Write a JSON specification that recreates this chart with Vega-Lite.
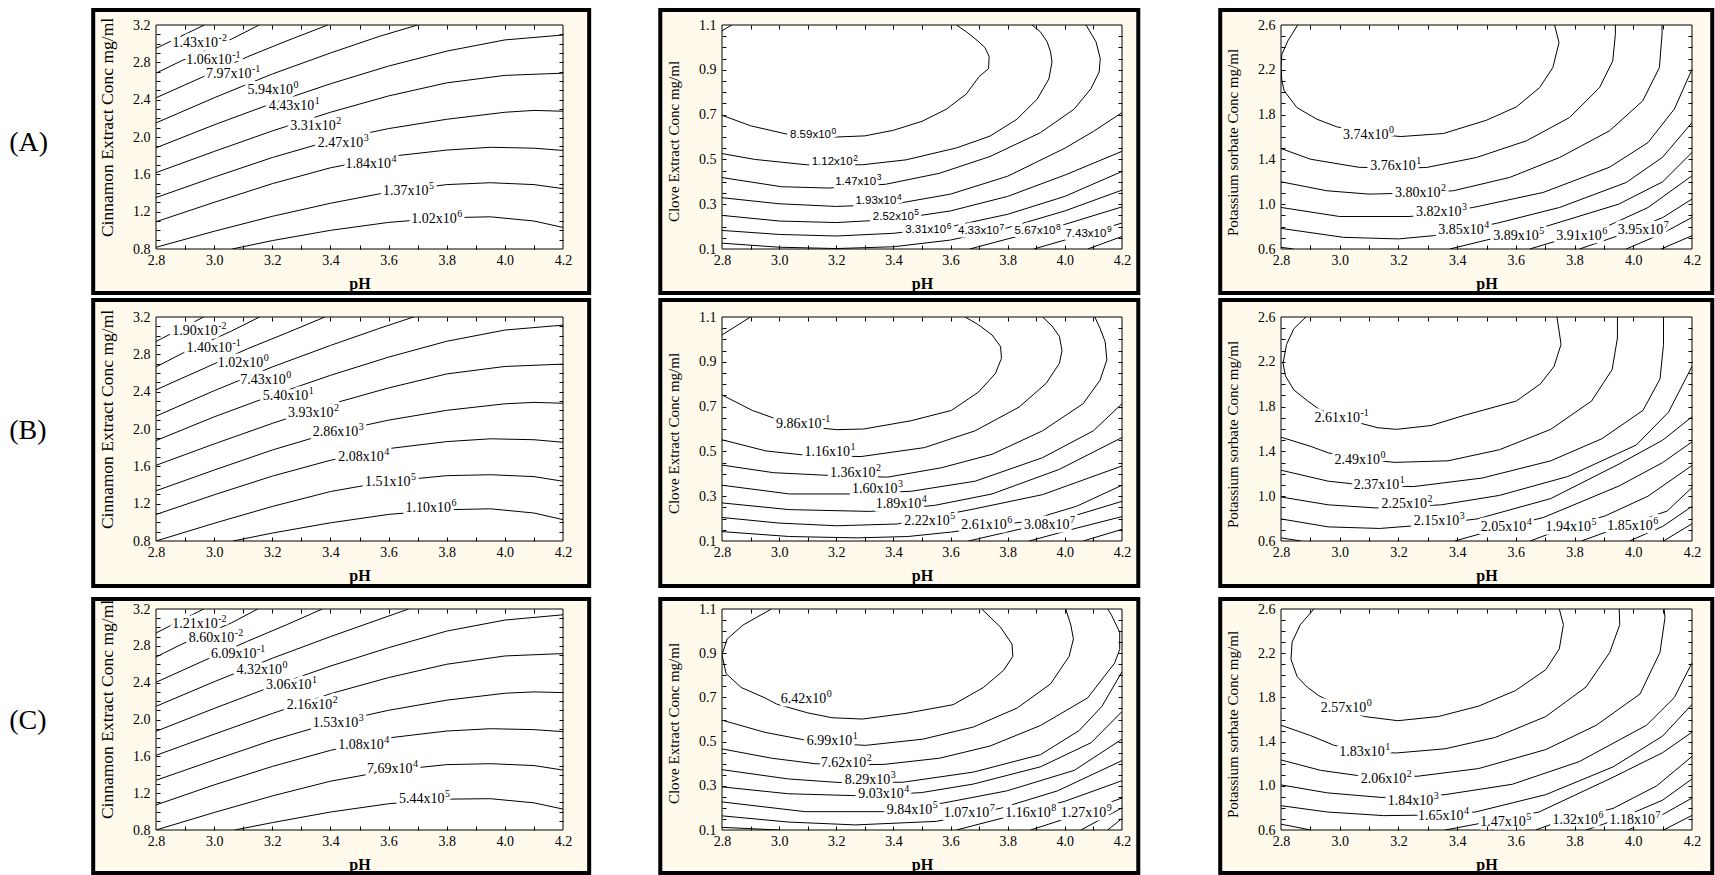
{
"$schema": "https://vega.github.io/schema/vega-lite/v6.json",
"background": "white",
"autosize": {"type": "pad"},
"padding": {"left": 9, "top": 7, "right": 0, "bottom": 0},
"config": {"view": {"stroke": null}, "axis": {"labelColor": "black", "titleColor": "black", "grid": false, "zindex": 1}},
"datasets": {
"frames": [
{"p":"A1","x0":2.584,"x1":4.29,"y0":0.329,"y1":3.361},
{"p":"B1","x0":2.584,"x1":4.29,"y0":0.318,"y1":3.382},
{"p":"C1","x0":2.584,"x1":4.29,"y0":0.333,"y1":3.309},
{"p":"A2","x0":2.584,"x1":4.257,"y0":-0.096,"y1":1.167},
{"p":"B2","x0":2.584,"x1":4.257,"y0":-0.101,"y1":1.176},
{"p":"C2","x0":2.584,"x1":4.257,"y0":-0.095,"y1":1.145},
{"p":"A3","x0":2.593,"x1":4.269,"y0":0.207,"y1":2.734},
{"p":"B3","x0":2.593,"x1":4.269,"y0":0.198,"y1":2.752},
{"p":"C3","x0":2.593,"x1":4.269,"y0":0.211,"y1":2.69}
],
"rowlab": [
{"p":"A1","t":"(A)","x":2.295,"y":1.936},
{"p":"B1","t":"(B)","x":2.295,"y":1.979},
{"p":"C1","t":"(C)","x":2.295,"y":1.984}
],
"labels": [
{"p":"A1","t":"1.43x10","e":"-2","x":2.857,"y":3.004},{"p":"A1","t":"1.06x10","e":"-1","x":2.904,"y":2.823},{"p":"A1","t":"7.97x10","e":"-1","x":2.972,"y":2.67},{"p":"A1","t":"5.94x10","e":"0","x":3.115,"y":2.503},{"p":"A1","t":"4.43x10","e":"1","x":3.188,"y":2.329},{"p":"A1","t":"3.31x10","e":"2","x":3.262,"y":2.115},{"p":"A1","t":"2.47x10","e":"3","x":3.356,"y":1.938},{"p":"A1","t":"1.84x10","e":"4","x":3.452,"y":1.707},{"p":"A1","t":"1.37x10","e":"5","x":3.581,"y":1.422},{"p":"A1","t":"1.02x10","e":"6","x":3.678,"y":1.12},
{"p":"B1","t":"1.90x10","e":"-2","x":2.856,"y":3.047},{"p":"B1","t":"1.40x10","e":"-1","x":2.905,"y":2.865},{"p":"B1","t":"1.02x10","e":"0","x":3.012,"y":2.702},{"p":"B1","t":"7.43x10","e":"0","x":3.09,"y":2.527},{"p":"B1","t":"5.40x10","e":"1","x":3.167,"y":2.356},{"p":"B1","t":"3.93x10","e":"2","x":3.254,"y":2.175},{"p":"B1","t":"2.86x10","e":"3","x":3.339,"y":1.967},{"p":"B1","t":"2.08x10","e":"4","x":3.427,"y":1.702},{"p":"B1","t":"1.51x10","e":"5","x":3.519,"y":1.429},{"p":"B1","t":"1.10x10","e":"6","x":3.658,"y":1.149},
{"p":"C1","t":"1.21x10","e":"-2","x":2.856,"y":3.036},{"p":"C1","t":"8.60x10","e":"-2","x":2.913,"y":2.887},{"p":"C1","t":"6.09x10","e":"-1","x":2.989,"y":2.716},{"p":"C1","t":"4.32x10","e":"0","x":3.077,"y":2.541},{"p":"C1","t":"3.06x10","e":"1","x":3.178,"y":2.374},{"p":"C1","t":"2.16x10","e":"2","x":3.25,"y":2.158},{"p":"C1","t":"1.53x10","e":"3","x":3.339,"y":1.965},{"p":"C1","t":"1.08x10","e":"4","x":3.427,"y":1.723},{"p":"C1","t":"7.69x10","e":"4","x":3.526,"y":1.462},{"p":"C1","t":"5.44x10","e":"5","x":3.636,"y":1.139},
{"p":"A2","t":"8.59x10","e":"0","x":3.038,"y":0.607},{"p":"A2","t":"1.12x10","e":"2","x":3.114,"y":0.488},{"p":"A2","t":"1.47x10","e":"3","x":3.196,"y":0.401},{"p":"A2","t":"1.93x10","e":"4","x":3.267,"y":0.314},{"p":"A2","t":"2.52x10","e":"5","x":3.328,"y":0.243},{"p":"A2","t":"3.31x10","e":"6","x":3.441,"y":0.183},{"p":"A2","t":"4.33x10","e":"7","x":3.626,"y":0.18},{"p":"A2","t":"5.67x10","e":"8","x":3.824,"y":0.18},{"p":"A2","t":"7.43x10","e":"9","x":4.002,"y":0.168},
{"p":"B2","t":"9.86x10","e":"-1","x":2.989,"y":0.622},{"p":"B2","t":"1.16x10","e":"1","x":3.089,"y":0.498},{"p":"B2","t":"1.36x10","e":"2","x":3.178,"y":0.402},{"p":"B2","t":"1.60x10","e":"3","x":3.255,"y":0.33},{"p":"B2","t":"1.89x10","e":"4","x":3.338,"y":0.265},{"p":"B2","t":"2.22x10","e":"5","x":3.438,"y":0.19},{"p":"B2","t":"2.61x10","e":"6","x":3.637,"y":0.172},{"p":"B2","t":"3.08x10","e":"7","x":3.857,"y":0.172},
{"p":"C2","t":"6.42x10","e":"0","x":3.006,"y":0.694},{"p":"C2","t":"6.99x10","e":"1","x":3.097,"y":0.503},{"p":"C2","t":"7.62x10","e":"2","x":3.146,"y":0.405},{"p":"C2","t":"8.29x10","e":"3","x":3.23,"y":0.327},{"p":"C2","t":"9.03x10","e":"4","x":3.277,"y":0.261},{"p":"C2","t":"9.84x10","e":"5","x":3.377,"y":0.191},{"p":"C2","t":"1.07x10","e":"7","x":3.576,"y":0.175},{"p":"C2","t":"1.16x10","e":"8","x":3.791,"y":0.175},{"p":"C2","t":"1.27x10","e":"9","x":3.986,"y":0.178},
{"p":"A3","t":"3.74x10","e":"0","x":3.011,"y":1.619},{"p":"A3","t":"3.76x10","e":"1","x":3.104,"y":1.34},{"p":"A3","t":"3.80x10","e":"2","x":3.188,"y":1.096},{"p":"A3","t":"3.82x10","e":"3","x":3.26,"y":0.933},{"p":"A3","t":"3.85x10","e":"4","x":3.336,"y":0.769},{"p":"A3","t":"3.89x10","e":"5","x":3.523,"y":0.719},{"p":"A3","t":"3.91x10","e":"6","x":3.738,"y":0.719},{"p":"A3","t":"3.95x10","e":"7","x":3.947,"y":0.769},
{"p":"B3","t":"2.61x10","e":"-1","x":2.914,"y":1.696},{"p":"B3","t":"2.49x10","e":"0","x":2.982,"y":1.322},{"p":"B3","t":"2.37x10","e":"1","x":3.048,"y":1.097},{"p":"B3","t":"2.25x10","e":"2","x":3.142,"y":0.929},{"p":"B3","t":"2.15x10","e":"3","x":3.252,"y":0.777},{"p":"B3","t":"2.05x10","e":"4","x":3.48,"y":0.726},{"p":"B3","t":"1.94x10","e":"5","x":3.701,"y":0.726},{"p":"B3","t":"1.85x10","e":"6","x":3.911,"y":0.732},
{"p":"C3","t":"2.57x10","e":"0","x":2.935,"y":1.705},{"p":"C3","t":"1.83x10","e":"1","x":2.998,"y":1.306},{"p":"C3","t":"2.06x10","e":"2","x":3.072,"y":1.062},{"p":"C3","t":"1.84x10","e":"3","x":3.164,"y":0.864},{"p":"C3","t":"1.65x10","e":"4","x":3.267,"y":0.726},{"p":"C3","t":"1.47x10","e":"5","x":3.479,"y":0.675},{"p":"C3","t":"1.32x10","e":"6","x":3.725,"y":0.691},{"p":"C3","t":"1.18x10","e":"7","x":3.919,"y":0.691}
],
"lines": [
{"p":"A1","c":1,"x":2.8,"y":2.95},{"p":"A1","c":1,"x":2.966,"y":3.2},
{"p":"A1","c":2,"x":2.8,"y":2.684},{"p":"A1","c":2,"x":2.89,"y":2.82},{"p":"A1","c":2,"x":3.06,"y":3.05},{"p":"A1","c":2,"x":3.155,"y":3.2},
{"p":"A1","c":3,"x":2.8,"y":2.42},{"p":"A1","c":3,"x":2.955,"y":2.635},{"p":"A1","c":3,"x":3.115,"y":2.86},{"p":"A1","c":3,"x":3.25,"y":3.03},{"p":"A1","c":3,"x":3.391,"y":3.2},
{"p":"A1","c":4,"x":2.8,"y":2.151},{"p":"A1","c":4,"x":3.0,"y":2.42},{"p":"A1","c":4,"x":3.2,"y":2.675},{"p":"A1","c":4,"x":3.4,"y":2.9},{"p":"A1","c":4,"x":3.57,"y":3.08},{"p":"A1","c":4,"x":3.7,"y":3.2},
{"p":"A1","c":5,"x":2.8,"y":1.884},{"p":"A1","c":5,"x":3.0,"y":2.13},{"p":"A1","c":5,"x":3.2,"y":2.36},{"p":"A1","c":5,"x":3.4,"y":2.57},{"p":"A1","c":5,"x":3.6,"y":2.76},{"p":"A1","c":5,"x":3.8,"y":2.92},{"p":"A1","c":5,"x":4.0,"y":3.04},{"p":"A1","c":5,"x":4.2,"y":3.093},
{"p":"A1","c":6,"x":2.8,"y":1.618},{"p":"A1","c":6,"x":3.0,"y":1.845},{"p":"A1","c":6,"x":3.2,"y":2.065},{"p":"A1","c":6,"x":3.4,"y":2.265},{"p":"A1","c":6,"x":3.6,"y":2.44},{"p":"A1","c":6,"x":3.8,"y":2.58},{"p":"A1","c":6,"x":4.0,"y":2.66},{"p":"A1","c":6,"x":4.2,"y":2.684},
{"p":"A1","c":7,"x":2.8,"y":1.351},{"p":"A1","c":7,"x":3.0,"y":1.57},{"p":"A1","c":7,"x":3.2,"y":1.78},{"p":"A1","c":7,"x":3.4,"y":1.96},{"p":"A1","c":7,"x":3.6,"y":2.09},{"p":"A1","c":7,"x":3.8,"y":2.19},{"p":"A1","c":7,"x":4.0,"y":2.265},{"p":"A1","c":7,"x":4.1,"y":2.285},{"p":"A1","c":7,"x":4.2,"y":2.276},
{"p":"A1","c":8,"x":2.8,"y":1.092},{"p":"A1","c":8,"x":3.0,"y":1.3},{"p":"A1","c":8,"x":3.2,"y":1.5},{"p":"A1","c":8,"x":3.4,"y":1.67},{"p":"A1","c":8,"x":3.6,"y":1.79},{"p":"A1","c":8,"x":3.8,"y":1.86},{"p":"A1","c":8,"x":3.95,"y":1.89},{"p":"A1","c":8,"x":4.1,"y":1.88},{"p":"A1","c":8,"x":4.2,"y":1.856},
{"p":"A1","c":9,"x":2.8,"y":0.818},{"p":"A1","c":9,"x":3.0,"y":0.99},{"p":"A1","c":9,"x":3.2,"y":1.15},{"p":"A1","c":9,"x":3.4,"y":1.29},{"p":"A1","c":9,"x":3.6,"y":1.41},{"p":"A1","c":9,"x":3.8,"y":1.49},{"p":"A1","c":9,"x":3.95,"y":1.51},{"p":"A1","c":9,"x":4.1,"y":1.49},{"p":"A1","c":9,"x":4.2,"y":1.447},
{"p":"A1","c":10,"x":3.062,"y":0.8},{"p":"A1","c":10,"x":3.2,"y":0.89},{"p":"A1","c":10,"x":3.4,"y":1.0},{"p":"A1","c":10,"x":3.6,"y":1.085},{"p":"A1","c":10,"x":3.8,"y":1.135},{"p":"A1","c":10,"x":3.95,"y":1.145},{"p":"A1","c":10,"x":4.1,"y":1.1},{"p":"A1","c":10,"x":4.2,"y":1.031},

{"p":"B1","c":1,"x":2.8,"y":2.938},{"p":"B1","c":1,"x":2.964,"y":3.2},
{"p":"B1","c":2,"x":2.8,"y":2.665},{"p":"B1","c":2,"x":2.89,"y":2.81},{"p":"B1","c":2,"x":3.06,"y":3.05},{"p":"B1","c":2,"x":3.156,"y":3.2},
{"p":"B1","c":3,"x":2.8,"y":2.42},{"p":"B1","c":3,"x":2.955,"y":2.635},{"p":"B1","c":3,"x":3.115,"y":2.86},{"p":"B1","c":3,"x":3.25,"y":3.03},{"p":"B1","c":3,"x":3.381,"y":3.2},
{"p":"B1","c":4,"x":2.8,"y":2.138},{"p":"B1","c":4,"x":3.0,"y":2.41},{"p":"B1","c":4,"x":3.2,"y":2.665},{"p":"B1","c":4,"x":3.4,"y":2.895},{"p":"B1","c":4,"x":3.57,"y":3.08},{"p":"B1","c":4,"x":3.686,"y":3.2},
{"p":"B1","c":5,"x":2.8,"y":1.876},{"p":"B1","c":5,"x":3.0,"y":2.13},{"p":"B1","c":5,"x":3.2,"y":2.36},{"p":"B1","c":5,"x":3.4,"y":2.575},{"p":"B1","c":5,"x":3.6,"y":2.77},{"p":"B1","c":5,"x":3.8,"y":2.94},{"p":"B1","c":5,"x":4.0,"y":3.06},{"p":"B1","c":5,"x":4.2,"y":3.113},
{"p":"B1","c":6,"x":2.8,"y":1.611},{"p":"B1","c":6,"x":3.0,"y":1.84},{"p":"B1","c":6,"x":3.2,"y":2.06},{"p":"B1","c":6,"x":3.4,"y":2.265},{"p":"B1","c":6,"x":3.6,"y":2.44},{"p":"B1","c":6,"x":3.8,"y":2.59},{"p":"B1","c":6,"x":4.0,"y":2.67},{"p":"B1","c":6,"x":4.2,"y":2.695},
{"p":"B1","c":7,"x":2.8,"y":1.338},{"p":"B1","c":7,"x":3.0,"y":1.56},{"p":"B1","c":7,"x":3.2,"y":1.775},{"p":"B1","c":7,"x":3.4,"y":1.96},{"p":"B1","c":7,"x":3.6,"y":2.095},{"p":"B1","c":7,"x":3.8,"y":2.2},{"p":"B1","c":7,"x":4.0,"y":2.27},{"p":"B1","c":7,"x":4.1,"y":2.285},{"p":"B1","c":7,"x":4.2,"y":2.276},
{"p":"B1","c":8,"x":2.8,"y":1.084},{"p":"B1","c":8,"x":3.0,"y":1.295},{"p":"B1","c":8,"x":3.2,"y":1.495},{"p":"B1","c":8,"x":3.4,"y":1.665},{"p":"B1","c":8,"x":3.6,"y":1.79},{"p":"B1","c":8,"x":3.8,"y":1.865},{"p":"B1","c":8,"x":3.95,"y":1.895},{"p":"B1","c":8,"x":4.1,"y":1.885},{"p":"B1","c":8,"x":4.2,"y":1.858},
{"p":"B1","c":9,"x":2.8,"y":0.8},{"p":"B1","c":9,"x":3.0,"y":0.99},{"p":"B1","c":9,"x":3.2,"y":1.17},{"p":"B1","c":9,"x":3.4,"y":1.33},{"p":"B1","c":9,"x":3.6,"y":1.44},{"p":"B1","c":9,"x":3.8,"y":1.5},{"p":"B1","c":9,"x":3.95,"y":1.51},{"p":"B1","c":9,"x":4.1,"y":1.49},{"p":"B1","c":9,"x":4.2,"y":1.44},
{"p":"B1","c":10,"x":3.065,"y":0.8},{"p":"B1","c":10,"x":3.2,"y":0.885},{"p":"B1","c":10,"x":3.4,"y":0.995},{"p":"B1","c":10,"x":3.6,"y":1.085},{"p":"B1","c":10,"x":3.8,"y":1.135},{"p":"B1","c":10,"x":3.95,"y":1.145},{"p":"B1","c":10,"x":4.1,"y":1.1},{"p":"B1","c":10,"x":4.2,"y":1.029},

{"p":"C1","c":1,"x":2.8,"y":2.94},{"p":"C1","c":1,"x":2.964,"y":3.2},
{"p":"C1","c":2,"x":2.8,"y":2.679},{"p":"C1","c":2,"x":2.89,"y":2.82},{"p":"C1","c":2,"x":3.06,"y":3.05},{"p":"C1","c":2,"x":3.15,"y":3.2},
{"p":"C1","c":3,"x":2.8,"y":2.404},{"p":"C1","c":3,"x":2.955,"y":2.625},{"p":"C1","c":3,"x":3.115,"y":2.85},{"p":"C1","c":3,"x":3.25,"y":3.03},{"p":"C1","c":3,"x":3.372,"y":3.2},
{"p":"C1","c":4,"x":2.8,"y":2.143},{"p":"C1","c":4,"x":3.0,"y":2.41},{"p":"C1","c":4,"x":3.2,"y":2.665},{"p":"C1","c":4,"x":3.4,"y":2.9},{"p":"C1","c":4,"x":3.57,"y":3.09},{"p":"C1","c":4,"x":3.669,"y":3.2},
{"p":"C1","c":5,"x":2.8,"y":1.872},{"p":"C1","c":5,"x":3.0,"y":2.12},{"p":"C1","c":5,"x":3.2,"y":2.36},{"p":"C1","c":5,"x":3.4,"y":2.58},{"p":"C1","c":5,"x":3.6,"y":2.78},{"p":"C1","c":5,"x":3.8,"y":2.96},{"p":"C1","c":5,"x":4.0,"y":3.08},{"p":"C1","c":5,"x":4.2,"y":3.137},
{"p":"C1","c":6,"x":2.8,"y":1.611},{"p":"C1","c":6,"x":3.0,"y":1.84},{"p":"C1","c":6,"x":3.2,"y":2.065},{"p":"C1","c":6,"x":3.4,"y":2.28},{"p":"C1","c":6,"x":3.6,"y":2.455},{"p":"C1","c":6,"x":3.8,"y":2.6},{"p":"C1","c":6,"x":4.0,"y":2.69},{"p":"C1","c":6,"x":4.2,"y":2.716},
{"p":"C1","c":7,"x":2.8,"y":1.34},{"p":"C1","c":7,"x":3.0,"y":1.56},{"p":"C1","c":7,"x":3.2,"y":1.775},{"p":"C1","c":7,"x":3.4,"y":1.96},{"p":"C1","c":7,"x":3.6,"y":2.1},{"p":"C1","c":7,"x":3.8,"y":2.21},{"p":"C1","c":7,"x":4.0,"y":2.285},{"p":"C1","c":7,"x":4.1,"y":2.3},{"p":"C1","c":7,"x":4.2,"y":2.292},
{"p":"C1","c":8,"x":2.8,"y":1.072},{"p":"C1","c":8,"x":3.0,"y":1.29},{"p":"C1","c":8,"x":3.2,"y":1.49},{"p":"C1","c":8,"x":3.4,"y":1.665},{"p":"C1","c":8,"x":3.6,"y":1.8},{"p":"C1","c":8,"x":3.8,"y":1.875},{"p":"C1","c":8,"x":3.95,"y":1.9},{"p":"C1","c":8,"x":4.1,"y":1.89},{"p":"C1","c":8,"x":4.2,"y":1.868},
{"p":"C1","c":9,"x":2.8,"y":0.8},{"p":"C1","c":9,"x":3.0,"y":0.99},{"p":"C1","c":9,"x":3.2,"y":1.17},{"p":"C1","c":9,"x":3.4,"y":1.33},{"p":"C1","c":9,"x":3.6,"y":1.445},{"p":"C1","c":9,"x":3.8,"y":1.51},{"p":"C1","c":9,"x":3.95,"y":1.52},{"p":"C1","c":9,"x":4.1,"y":1.5},{"p":"C1","c":9,"x":4.2,"y":1.451},
{"p":"C1","c":10,"x":3.071,"y":0.8},{"p":"C1","c":10,"x":3.2,"y":0.88},{"p":"C1","c":10,"x":3.4,"y":0.995},{"p":"C1","c":10,"x":3.6,"y":1.085},{"p":"C1","c":10,"x":3.8,"y":1.135},{"p":"C1","c":10,"x":3.95,"y":1.14},{"p":"C1","c":10,"x":4.1,"y":1.095},{"p":"C1","c":10,"x":4.2,"y":1.027},

{"p":"A2","c":0,"x":2.8,"y":1.074},{"p":"A2","c":0,"x":2.834,"y":1.1},
{"p":"A2","c":1,"x":2.8,"y":0.697},{"p":"A2","c":1,"x":2.9,"y":0.65},{"p":"A2","c":1,"x":3.03,"y":0.612},{"p":"A2","c":1,"x":3.2,"y":0.6},{"p":"A2","c":1,"x":3.3,"y":0.605},{"p":"A2","c":1,"x":3.4,"y":0.63},{"p":"A2","c":1,"x":3.5,"y":0.67},{"p":"A2","c":1,"x":3.585,"y":0.724},{"p":"A2","c":1,"x":3.655,"y":0.792},{"p":"A2","c":1,"x":3.7,"y":0.87},{"p":"A2","c":1,"x":3.733,"y":0.905},{"p":"A2","c":1,"x":3.735,"y":0.96},{"p":"A2","c":1,"x":3.72,"y":1.0},{"p":"A2","c":1,"x":3.696,"y":1.028},{"p":"A2","c":1,"x":3.655,"y":1.07},{"p":"A2","c":1,"x":3.62,"y":1.1},
{"p":"A2","c":2,"x":2.8,"y":0.526},{"p":"A2","c":2,"x":2.914,"y":0.5},{"p":"A2","c":2,"x":3.096,"y":0.476},{"p":"A2","c":2,"x":3.291,"y":0.476},{"p":"A2","c":2,"x":3.444,"y":0.498},{"p":"A2","c":2,"x":3.62,"y":0.551},{"p":"A2","c":2,"x":3.738,"y":0.604},{"p":"A2","c":2,"x":3.832,"y":0.679},{"p":"A2","c":2,"x":3.903,"y":0.769},{"p":"A2","c":2,"x":3.944,"y":0.859},{"p":"A2","c":2,"x":3.955,"y":0.934},{"p":"A2","c":2,"x":3.95,"y":0.98},{"p":"A2","c":2,"x":3.938,"y":1.025},{"p":"A2","c":2,"x":3.914,"y":1.07},{"p":"A2","c":2,"x":3.885,"y":1.1},
{"p":"A2","c":3,"x":2.8,"y":0.419},{"p":"A2","c":3,"x":3.008,"y":0.378},{"p":"A2","c":3,"x":3.173,"y":0.372},{"p":"A2","c":3,"x":3.373,"y":0.389},{"p":"A2","c":3,"x":3.561,"y":0.438},{"p":"A2","c":3,"x":3.738,"y":0.513},{"p":"A2","c":3,"x":3.914,"y":0.619},{"p":"A2","c":3,"x":4.032,"y":0.724},{"p":"A2","c":3,"x":4.091,"y":0.815},{"p":"A2","c":3,"x":4.12,"y":0.89},{"p":"A2","c":3,"x":4.124,"y":0.95},{"p":"A2","c":3,"x":4.109,"y":1.025},{"p":"A2","c":3,"x":4.085,"y":1.077},{"p":"A2","c":3,"x":4.074,"y":1.1},
{"p":"A2","c":4,"x":2.8,"y":0.329},{"p":"A2","c":4,"x":3.0,"y":0.302},{"p":"A2","c":4,"x":3.2,"y":0.29},{"p":"A2","c":4,"x":3.4,"y":0.3},{"p":"A2","c":4,"x":3.6,"y":0.345},{"p":"A2","c":4,"x":3.8,"y":0.425},{"p":"A2","c":4,"x":4.0,"y":0.55},{"p":"A2","c":4,"x":4.1,"y":0.625},{"p":"A2","c":4,"x":4.2,"y":0.709},
{"p":"A2","c":5,"x":2.8,"y":0.25},{"p":"A2","c":5,"x":3.0,"y":0.225},{"p":"A2","c":5,"x":3.2,"y":0.218},{"p":"A2","c":5,"x":3.4,"y":0.232},{"p":"A2","c":5,"x":3.6,"y":0.27},{"p":"A2","c":5,"x":3.8,"y":0.335},{"p":"A2","c":5,"x":4.0,"y":0.43},{"p":"A2","c":5,"x":4.2,"y":0.536},
{"p":"A2","c":6,"x":2.8,"y":0.183},{"p":"A2","c":6,"x":3.0,"y":0.165},{"p":"A2","c":6,"x":3.2,"y":0.158},{"p":"A2","c":6,"x":3.4,"y":0.17},{"p":"A2","c":6,"x":3.6,"y":0.2},{"p":"A2","c":6,"x":3.8,"y":0.255},{"p":"A2","c":6,"x":4.0,"y":0.335},{"p":"A2","c":6,"x":4.2,"y":0.446},
{"p":"A2","c":7,"x":2.8,"y":0.126},{"p":"A2","c":7,"x":3.0,"y":0.108},{"p":"A2","c":7,"x":3.2,"y":0.102},{"p":"A2","c":7,"x":3.4,"y":0.11},{"p":"A2","c":7,"x":3.6,"y":0.14},{"p":"A2","c":7,"x":3.8,"y":0.195},{"p":"A2","c":7,"x":4.0,"y":0.27},{"p":"A2","c":7,"x":4.2,"y":0.363},
{"p":"A2","c":8,"x":3.667,"y":0.1},{"p":"A2","c":8,"x":3.8,"y":0.145},{"p":"A2","c":8,"x":4.0,"y":0.21},{"p":"A2","c":8,"x":4.2,"y":0.288},
{"p":"A2","c":9,"x":3.891,"y":0.1},{"p":"A2","c":9,"x":4.0,"y":0.14},{"p":"A2","c":9,"x":4.2,"y":0.216},
{"p":"A2","c":10,"x":4.08,"y":0.1},{"p":"A2","c":10,"x":4.2,"y":0.156},

{"p":"B2","c":0,"x":2.8,"y":1.02},{"p":"B2","c":0,"x":2.9,"y":1.1},
{"p":"B2","c":1,"x":2.8,"y":0.752},{"p":"B2","c":1,"x":2.906,"y":0.683},{"p":"B2","c":1,"x":3.0,"y":0.64},{"p":"B2","c":1,"x":3.1,"y":0.61},{"p":"B2","c":1,"x":3.202,"y":0.597},{"p":"B2","c":1,"x":3.296,"y":0.6},{"p":"B2","c":1,"x":3.462,"y":0.637},{"p":"B2","c":1,"x":3.603,"y":0.683},{"p":"B2","c":1,"x":3.698,"y":0.765},{"p":"B2","c":1,"x":3.757,"y":0.848},{"p":"B2","c":1,"x":3.778,"y":0.915},{"p":"B2","c":1,"x":3.775,"y":0.968},{"p":"B2","c":1,"x":3.745,"y":1.02},{"p":"B2","c":1,"x":3.698,"y":1.065},{"p":"B2","c":1,"x":3.651,"y":1.1},
{"p":"B2","c":2,"x":2.8,"y":0.552},{"p":"B2","c":2,"x":2.954,"y":0.502},{"p":"B2","c":2,"x":3.1,"y":0.482},{"p":"B2","c":2,"x":3.287,"y":0.477},{"p":"B2","c":2,"x":3.509,"y":0.517},{"p":"B2","c":2,"x":3.686,"y":0.592},{"p":"B2","c":2,"x":3.84,"y":0.698},{"p":"B2","c":2,"x":3.934,"y":0.803},{"p":"B2","c":2,"x":3.981,"y":0.893},{"p":"B2","c":2,"x":3.99,"y":0.95},{"p":"B2","c":2,"x":3.981,"y":1.013},{"p":"B2","c":2,"x":3.955,"y":1.06},{"p":"B2","c":2,"x":3.922,"y":1.1},
{"p":"B2","c":3,"x":2.8,"y":0.439},{"p":"B2","c":3,"x":2.98,"y":0.405},{"p":"B2","c":3,"x":3.154,"y":0.394},{"p":"B2","c":3,"x":3.379,"y":0.385},{"p":"B2","c":3,"x":3.568,"y":0.427},{"p":"B2","c":3,"x":3.745,"y":0.487},{"p":"B2","c":3,"x":3.922,"y":0.592},{"p":"B2","c":3,"x":4.064,"y":0.713},{"p":"B2","c":3,"x":4.123,"y":0.818},{"p":"B2","c":3,"x":4.147,"y":0.908},{"p":"B2","c":3,"x":4.141,"y":0.99},{"p":"B2","c":3,"x":4.123,"y":1.05},{"p":"B2","c":3,"x":4.105,"y":1.1},
{"p":"B2","c":4,"x":2.8,"y":0.349},{"p":"B2","c":4,"x":3.036,"y":0.31},{"p":"B2","c":4,"x":3.25,"y":0.31},{"p":"B2","c":4,"x":3.462,"y":0.322},{"p":"B2","c":4,"x":3.686,"y":0.367},{"p":"B2","c":4,"x":3.922,"y":0.472},{"p":"B2","c":4,"x":4.1,"y":0.592},{"p":"B2","c":4,"x":4.2,"y":0.713},
{"p":"B2","c":5,"x":2.8,"y":0.27},{"p":"B2","c":5,"x":3.036,"y":0.24},{"p":"B2","c":5,"x":3.32,"y":0.232},{"p":"B2","c":5,"x":3.544,"y":0.259},{"p":"B2","c":5,"x":3.745,"y":0.31},{"p":"B2","c":5,"x":3.981,"y":0.42},{"p":"B2","c":5,"x":4.2,"y":0.562},
{"p":"B2","c":6,"x":2.8,"y":0.205},{"p":"B2","c":6,"x":3.0,"y":0.18},{"p":"B2","c":6,"x":3.202,"y":0.168},{"p":"B2","c":6,"x":3.414,"y":0.176},{"p":"B2","c":6,"x":3.686,"y":0.244},{"p":"B2","c":6,"x":3.922,"y":0.307},{"p":"B2","c":6,"x":4.2,"y":0.435},
{"p":"B2","c":7,"x":2.8,"y":0.142},{"p":"B2","c":7,"x":3.036,"y":0.12},{"p":"B2","c":7,"x":3.272,"y":0.114},{"p":"B2","c":7,"x":3.45,"y":0.12},{"p":"B2","c":7,"x":3.603,"y":0.14},{"p":"B2","c":7,"x":3.863,"y":0.187},{"p":"B2","c":7,"x":4.041,"y":0.255},{"p":"B2","c":7,"x":4.2,"y":0.349},
{"p":"B2","c":8,"x":3.662,"y":0.1},{"p":"B2","c":8,"x":3.85,"y":0.155},{"p":"B2","c":8,"x":4.0,"y":0.2},{"p":"B2","c":8,"x":4.2,"y":0.277},
{"p":"B2","c":9,"x":3.875,"y":0.1},{"p":"B2","c":9,"x":4.04,"y":0.157},{"p":"B2","c":9,"x":4.2,"y":0.209},
{"p":"B2","c":10,"x":4.064,"y":0.1},{"p":"B2","c":10,"x":4.2,"y":0.152},

{"p":"C2","c":1,"x":2.973,"y":1.1},{"p":"C2","c":1,"x":2.873,"y":1.027},{"p":"C2","c":1,"x":2.818,"y":0.964},{"p":"C2","c":1,"x":2.8,"y":0.894},{"p":"C2","c":1,"x":2.814,"y":0.808},{"p":"C2","c":1,"x":2.867,"y":0.745},{"p":"C2","c":1,"x":2.95,"y":0.698},{"p":"C2","c":1,"x":2.991,"y":0.67},{"p":"C2","c":1,"x":3.1,"y":0.63},{"p":"C2","c":1,"x":3.185,"y":0.608},{"p":"C2","c":1,"x":3.291,"y":0.602},{"p":"C2","c":1,"x":3.444,"y":0.628},{"p":"C2","c":1,"x":3.609,"y":0.667},{"p":"C2","c":1,"x":3.715,"y":0.745},{"p":"C2","c":1,"x":3.786,"y":0.823},{"p":"C2","c":1,"x":3.818,"y":0.886},{"p":"C2","c":1,"x":3.815,"y":0.941},{"p":"C2","c":1,"x":3.774,"y":1.019},{"p":"C2","c":1,"x":3.709,"y":1.1},
{"p":"C2","c":2,"x":2.8,"y":0.597},{"p":"C2","c":2,"x":2.95,"y":0.542},{"p":"C2","c":2,"x":3.079,"y":0.51},{"p":"C2","c":2,"x":3.2,"y":0.49},{"p":"C2","c":2,"x":3.303,"y":0.483},{"p":"C2","c":2,"x":3.503,"y":0.511},{"p":"C2","c":2,"x":3.68,"y":0.566},{"p":"C2","c":2,"x":3.833,"y":0.652},{"p":"C2","c":2,"x":3.95,"y":0.761},{"p":"C2","c":2,"x":4.015,"y":0.886},{"p":"C2","c":2,"x":4.03,"y":0.964},{"p":"C2","c":2,"x":4.021,"y":1.027},{"p":"C2","c":2,"x":4.003,"y":1.1},
{"p":"C2","c":3,"x":2.8,"y":0.467},{"p":"C2","c":3,"x":2.973,"y":0.425},{"p":"C2","c":3,"x":3.126,"y":0.4},{"p":"C2","c":3,"x":3.25,"y":0.395},{"p":"C2","c":3,"x":3.368,"y":0.397},{"p":"C2","c":3,"x":3.562,"y":0.425},{"p":"C2","c":3,"x":3.738,"y":0.48},{"p":"C2","c":3,"x":3.915,"y":0.573},{"p":"C2","c":3,"x":4.08,"y":0.698},{"p":"C2","c":3,"x":4.174,"y":0.855},{"p":"C2","c":3,"x":4.192,"y":0.917},{"p":"C2","c":3,"x":4.192,"y":0.995},{"p":"C2","c":3,"x":4.163,"y":1.073},{"p":"C2","c":3,"x":4.15,"y":1.1},
{"p":"C2","c":4,"x":2.8,"y":0.373},{"p":"C2","c":4,"x":3.032,"y":0.331},{"p":"C2","c":4,"x":3.209,"y":0.315},{"p":"C2","c":4,"x":3.432,"y":0.316},{"p":"C2","c":4,"x":3.68,"y":0.362},{"p":"C2","c":4,"x":3.915,"y":0.441},{"p":"C2","c":4,"x":4.05,"y":0.55},{"p":"C2","c":4,"x":4.13,"y":0.66},{"p":"C2","c":4,"x":4.2,"y":0.816},
{"p":"C2","c":5,"x":2.8,"y":0.295},{"p":"C2","c":5,"x":3.032,"y":0.264},{"p":"C2","c":5,"x":3.277,"y":0.255},{"p":"C2","c":5,"x":3.497,"y":0.269},{"p":"C2","c":5,"x":3.68,"y":0.308},{"p":"C2","c":5,"x":3.915,"y":0.386},{"p":"C2","c":5,"x":4.092,"y":0.495},{"p":"C2","c":5,"x":4.2,"y":0.636},
{"p":"C2","c":6,"x":2.8,"y":0.227},{"p":"C2","c":6,"x":3.091,"y":0.183},{"p":"C2","c":6,"x":3.362,"y":0.183},{"p":"C2","c":6,"x":3.574,"y":0.222},{"p":"C2","c":6,"x":3.797,"y":0.277},{"p":"C2","c":6,"x":4.033,"y":0.37},{"p":"C2","c":6,"x":4.2,"y":0.511},
{"p":"C2","c":7,"x":2.8,"y":0.164},{"p":"C2","c":7,"x":3.032,"y":0.136},{"p":"C2","c":7,"x":3.267,"y":0.123},{"p":"C2","c":7,"x":3.55,"y":0.139},{"p":"C2","c":7,"x":3.774,"y":0.198},{"p":"C2","c":7,"x":3.974,"y":0.277},{"p":"C2","c":7,"x":4.2,"y":0.414},
{"p":"C2","c":8,"x":2.8,"y":0.112},{"p":"C2","c":8,"x":3.0,"y":0.1},
{"p":"C2","c":18,"x":3.62,"y":0.1},{"p":"C2","c":18,"x":3.8,"y":0.16},{"p":"C2","c":18,"x":4.0,"y":0.23},{"p":"C2","c":18,"x":4.2,"y":0.323},
{"p":"C2","c":9,"x":3.88,"y":0.1},{"p":"C2","c":9,"x":4.0,"y":0.15},{"p":"C2","c":9,"x":4.2,"y":0.245},
{"p":"C2","c":10,"x":4.056,"y":0.1},{"p":"C2","c":10,"x":4.2,"y":0.2},
{"p":"C2","c":11,"x":4.15,"y":0.1},{"p":"C2","c":11,"x":4.2,"y":0.152},

{"p":"A3","c":1,"x":2.857,"y":2.6},{"p":"A3","c":1,"x":2.823,"y":2.457},{"p":"A3","c":1,"x":2.803,"y":2.338},{"p":"A3","c":1,"x":2.8,"y":2.22},{"p":"A3","c":1,"x":2.803,"y":2.1},{"p":"A3","c":1,"x":2.811,"y":2.012},{"p":"A3","c":1,"x":2.854,"y":1.863},{"p":"A3","c":1,"x":2.922,"y":1.759},{"p":"A3","c":1,"x":2.99,"y":1.691},{"p":"A3","c":1,"x":3.1,"y":1.63},{"p":"A3","c":1,"x":3.208,"y":1.604},{"p":"A3","c":1,"x":3.353,"y":1.631},{"p":"A3","c":1,"x":3.5,"y":1.75},{"p":"A3","c":1,"x":3.602,"y":1.869},{"p":"A3","c":1,"x":3.681,"y":2.041},{"p":"A3","c":1,"x":3.726,"y":2.22},{"p":"A3","c":1,"x":3.747,"y":2.443},{"p":"A3","c":1,"x":3.732,"y":2.6},
{"p":"A3","c":2,"x":2.8,"y":1.497},{"p":"A3","c":2,"x":2.9,"y":1.402},{"p":"A3","c":2,"x":3.064,"y":1.33},{"p":"A3","c":2,"x":3.2,"y":1.32},{"p":"A3","c":2,"x":3.296,"y":1.328},{"p":"A3","c":2,"x":3.466,"y":1.417},{"p":"A3","c":2,"x":3.636,"y":1.566},{"p":"A3","c":2,"x":3.783,"y":1.774},{"p":"A3","c":2,"x":3.885,"y":2.041},{"p":"A3","c":2,"x":3.93,"y":2.279},{"p":"A3","c":2,"x":3.939,"y":2.517},{"p":"A3","c":2,"x":3.939,"y":2.6},
{"p":"A3","c":3,"x":2.8,"y":1.2},{"p":"A3","c":3,"x":2.956,"y":1.12},{"p":"A3","c":3,"x":3.1,"y":1.09},{"p":"A3","c":3,"x":3.25,"y":1.1},{"p":"A3","c":3,"x":3.387,"y":1.12},{"p":"A3","c":3,"x":3.579,"y":1.239},{"p":"A3","c":3,"x":3.749,"y":1.417},{"p":"A3","c":3,"x":3.919,"y":1.655},{"p":"A3","c":3,"x":4.032,"y":1.922},{"p":"A3","c":3,"x":4.089,"y":2.22},{"p":"A3","c":3,"x":4.098,"y":2.517},{"p":"A3","c":3,"x":4.098,"y":2.6},
{"p":"A3","c":4,"x":2.8,"y":0.971},{"p":"A3","c":4,"x":3.0,"y":0.89},{"p":"A3","c":4,"x":3.24,"y":0.89},{"p":"A3","c":4,"x":3.455,"y":0.971},{"p":"A3","c":4,"x":3.693,"y":1.105},{"p":"A3","c":4,"x":3.919,"y":1.33},{"p":"A3","c":4,"x":4.05,"y":1.55},{"p":"A3","c":4,"x":4.14,"y":1.85},{"p":"A3","c":4,"x":4.2,"y":2.205},
{"p":"A3","c":5,"x":2.8,"y":0.784},{"p":"A3","c":5,"x":3.013,"y":0.704},{"p":"A3","c":5,"x":3.2,"y":0.69},{"p":"A3","c":5,"x":3.319,"y":0.719},{"p":"A3","c":5,"x":3.534,"y":0.829},{"p":"A3","c":5,"x":3.749,"y":0.971},{"p":"A3","c":5,"x":3.976,"y":1.194},{"p":"A3","c":5,"x":4.1,"y":1.42},{"p":"A3","c":5,"x":4.2,"y":1.729},
{"p":"A3","c":16,"x":2.8,"y":0.615},{"p":"A3","c":16,"x":2.843,"y":0.6},
{"p":"A3","c":6,"x":3.375,"y":0.6},{"p":"A3","c":6,"x":3.5,"y":0.68},{"p":"A3","c":6,"x":3.7,"y":0.8},{"p":"A3","c":6,"x":3.95,"y":1.0},{"p":"A3","c":6,"x":4.1,"y":1.2},{"p":"A3","c":6,"x":4.2,"y":1.462},
{"p":"A3","c":7,"x":3.647,"y":0.6},{"p":"A3","c":7,"x":3.75,"y":0.68},{"p":"A3","c":7,"x":3.9,"y":0.79},{"p":"A3","c":7,"x":4.05,"y":0.97},{"p":"A3","c":7,"x":4.2,"y":1.254},
{"p":"A3","c":8,"x":3.817,"y":0.6},{"p":"A3","c":8,"x":3.95,"y":0.72},{"p":"A3","c":8,"x":4.1,"y":0.88},{"p":"A3","c":8,"x":4.2,"y":1.046},
{"p":"A3","c":9,"x":3.976,"y":0.6},{"p":"A3","c":9,"x":4.1,"y":0.74},{"p":"A3","c":9,"x":4.2,"y":0.882},
{"p":"A3","c":10,"x":4.095,"y":0.6},{"p":"A3","c":10,"x":4.2,"y":0.719},

{"p":"B3","c":1,"x":2.885,"y":2.6},{"p":"B3","c":1,"x":2.844,"y":2.496},{"p":"B3","c":1,"x":2.819,"y":2.356},{"p":"B3","c":1,"x":2.807,"y":2.187},{"p":"B3","c":1,"x":2.815,"y":2.075},{"p":"B3","c":1,"x":2.844,"y":1.948},{"p":"B3","c":1,"x":2.891,"y":1.85},{"p":"B3","c":1,"x":2.928,"y":1.78},{"p":"B3","c":1,"x":3.0,"y":1.7},{"p":"B3","c":1,"x":3.13,"y":1.611},{"p":"B3","c":1,"x":3.194,"y":1.597},{"p":"B3","c":1,"x":3.311,"y":1.631},{"p":"B3","c":1,"x":3.427,"y":1.724},{"p":"B3","c":1,"x":3.602,"y":1.85},{"p":"B3","c":1,"x":3.684,"y":2.004},{"p":"B3","c":1,"x":3.73,"y":2.159},{"p":"B3","c":1,"x":3.754,"y":2.356},{"p":"B3","c":1,"x":3.74,"y":2.6},
{"p":"B3","c":2,"x":2.8,"y":1.527},{"p":"B3","c":2,"x":2.903,"y":1.443},{"p":"B3","c":2,"x":2.961,"y":1.387},{"p":"B3","c":2,"x":3.05,"y":1.34},{"p":"B3","c":2,"x":3.188,"y":1.302},{"p":"B3","c":2,"x":3.369,"y":1.316},{"p":"B3","c":2,"x":3.544,"y":1.415},{"p":"B3","c":2,"x":3.719,"y":1.597},{"p":"B3","c":2,"x":3.858,"y":1.85},{"p":"B3","c":2,"x":3.928,"y":2.131},{"p":"B3","c":2,"x":3.946,"y":2.412},{"p":"B3","c":2,"x":3.946,"y":2.6},
{"p":"B3","c":3,"x":2.8,"y":1.232},{"p":"B3","c":3,"x":2.961,"y":1.134},{"p":"B3","c":3,"x":3.1,"y":1.095},{"p":"B3","c":3,"x":3.252,"y":1.086},{"p":"B3","c":3,"x":3.485,"y":1.162},{"p":"B3","c":3,"x":3.719,"y":1.316},{"p":"B3","c":3,"x":3.893,"y":1.513},{"p":"B3","c":3,"x":4.033,"y":1.766},{"p":"B3","c":3,"x":4.091,"y":2.047},{"p":"B3","c":3,"x":4.103,"y":2.356},{"p":"B3","c":3,"x":4.103,"y":2.6},
{"p":"B3","c":4,"x":2.8,"y":0.993},{"p":"B3","c":4,"x":2.961,"y":0.923},{"p":"B3","c":4,"x":3.124,"y":0.895},{"p":"B3","c":4,"x":3.346,"y":0.923},{"p":"B3","c":4,"x":3.544,"y":1.007},{"p":"B3","c":4,"x":3.777,"y":1.176},{"p":"B3","c":4,"x":4.01,"y":1.457},{"p":"B3","c":4,"x":4.12,"y":1.75},{"p":"B3","c":4,"x":4.2,"y":2.159},
{"p":"B3","c":5,"x":2.8,"y":0.797},{"p":"B3","c":5,"x":2.961,"y":0.726},{"p":"B3","c":5,"x":3.136,"y":0.712},{"p":"B3","c":5,"x":3.3,"y":0.745},{"p":"B3","c":5,"x":3.468,"y":0.797},{"p":"B3","c":5,"x":3.719,"y":0.979},{"p":"B3","c":5,"x":3.952,"y":1.288},{"p":"B3","c":5,"x":4.1,"y":1.5},{"p":"B3","c":5,"x":4.2,"y":1.709},
{"p":"B3","c":16,"x":2.8,"y":0.628},{"p":"B3","c":16,"x":2.868,"y":0.6},
{"p":"B3","c":6,"x":3.392,"y":0.6},{"p":"B3","c":6,"x":3.5,"y":0.68},{"p":"B3","c":6,"x":3.695,"y":0.811},{"p":"B3","c":6,"x":3.952,"y":1.092},{"p":"B3","c":6,"x":4.1,"y":1.3},{"p":"B3","c":6,"x":4.2,"y":1.485},
{"p":"B3","c":7,"x":3.649,"y":0.6},{"p":"B3","c":7,"x":3.75,"y":0.7},{"p":"B3","c":7,"x":3.905,"y":0.825},{"p":"B3","c":7,"x":4.05,"y":1.0},{"p":"B3","c":7,"x":4.2,"y":1.274},
{"p":"B3","c":8,"x":3.823,"y":0.6},{"p":"B3","c":8,"x":3.95,"y":0.72},{"p":"B3","c":8,"x":4.115,"y":0.867},{"p":"B3","c":8,"x":4.2,"y":1.077},
{"p":"B3","c":9,"x":3.987,"y":0.6},{"p":"B3","c":9,"x":4.1,"y":0.73},{"p":"B3","c":9,"x":4.2,"y":0.909},
{"p":"B3","c":10,"x":4.103,"y":0.6},{"p":"B3","c":10,"x":4.2,"y":0.754},

{"p":"C3","c":1,"x":2.912,"y":2.6},{"p":"C3","c":1,"x":2.866,"y":2.459},{"p":"C3","c":1,"x":2.838,"y":2.302},{"p":"C3","c":1,"x":2.834,"y":2.145},{"p":"C3","c":1,"x":2.855,"y":1.988},{"p":"C3","c":1,"x":2.889,"y":1.894},{"p":"C3","c":1,"x":2.929,"y":1.815},{"p":"C3","c":1,"x":3.0,"y":1.72},{"p":"C3","c":1,"x":3.084,"y":1.627},{"p":"C3","c":1,"x":3.198,"y":1.589},{"p":"C3","c":1,"x":3.336,"y":1.627},{"p":"C3","c":1,"x":3.473,"y":1.721},{"p":"C3","c":1,"x":3.599,"y":1.862},{"p":"C3","c":1,"x":3.702,"y":2.051},{"p":"C3","c":1,"x":3.748,"y":2.239},{"p":"C3","c":1,"x":3.762,"y":2.459},{"p":"C3","c":1,"x":3.748,"y":2.6},
{"p":"C3","c":2,"x":2.8,"y":1.548},{"p":"C3","c":2,"x":2.901,"y":1.454},{"p":"C3","c":2,"x":2.981,"y":1.366},{"p":"C3","c":2,"x":3.08,"y":1.31},{"p":"C3","c":2,"x":3.193,"y":1.297},{"p":"C3","c":2,"x":3.359,"y":1.335},{"p":"C3","c":2,"x":3.53,"y":1.438},{"p":"C3","c":2,"x":3.702,"y":1.627},{"p":"C3","c":2,"x":3.839,"y":1.894},{"p":"C3","c":2,"x":3.92,"y":2.208},{"p":"C3","c":2,"x":3.954,"y":2.459},{"p":"C3","c":2,"x":3.952,"y":2.6},
{"p":"C3","c":3,"x":2.8,"y":1.234},{"p":"C3","c":3,"x":2.935,"y":1.14},{"p":"C3","c":3,"x":3.061,"y":1.093},{"p":"C3","c":3,"x":3.15,"y":1.08},{"p":"C3","c":3,"x":3.267,"y":1.087},{"p":"C3","c":3,"x":3.473,"y":1.156},{"p":"C3","c":3,"x":3.702,"y":1.328},{"p":"C3","c":3,"x":3.874,"y":1.548},{"p":"C3","c":3,"x":4.023,"y":1.831},{"p":"C3","c":3,"x":4.091,"y":2.208},{"p":"C3","c":3,"x":4.108,"y":2.522},{"p":"C3","c":3,"x":4.105,"y":2.6},
{"p":"C3","c":4,"x":2.8,"y":1.008},{"p":"C3","c":4,"x":2.958,"y":0.936},{"p":"C3","c":4,"x":3.141,"y":0.895},{"p":"C3","c":4,"x":3.25,"y":0.9},{"p":"C3","c":4,"x":3.359,"y":0.92},{"p":"C3","c":4,"x":3.588,"y":1.014},{"p":"C3","c":4,"x":3.816,"y":1.219},{"p":"C3","c":4,"x":4.045,"y":1.548},{"p":"C3","c":4,"x":4.14,"y":1.8},{"p":"C3","c":4,"x":4.2,"y":2.113},
{"p":"C3","c":5,"x":2.8,"y":0.82},{"p":"C3","c":5,"x":2.958,"y":0.763},{"p":"C3","c":5,"x":3.15,"y":0.73},{"p":"C3","c":5,"x":3.3,"y":0.735},{"p":"C3","c":5,"x":3.462,"y":0.763},{"p":"C3","c":5,"x":3.702,"y":0.92},{"p":"C3","c":5,"x":3.931,"y":1.171},{"p":"C3","c":5,"x":4.1,"y":1.45},{"p":"C3","c":5,"x":4.2,"y":1.737},
{"p":"C3","c":16,"x":2.8,"y":0.653},{"p":"C3","c":16,"x":2.901,"y":0.6},
{"p":"C3","c":6,"x":3.359,"y":0.6},{"p":"C3","c":6,"x":3.479,"y":0.66},{"p":"C3","c":6,"x":3.679,"y":0.763},{"p":"C3","c":6,"x":3.931,"y":1.077},{"p":"C3","c":6,"x":4.1,"y":1.3},{"p":"C3","c":6,"x":4.2,"y":1.485},
{"p":"C3","c":7,"x":3.668,"y":0.6},{"p":"C3","c":7,"x":3.75,"y":0.68},{"p":"C3","c":7,"x":3.931,"y":0.795},{"p":"C3","c":7,"x":4.08,"y":1.0},{"p":"C3","c":7,"x":4.2,"y":1.266},
{"p":"C3","c":8,"x":3.839,"y":0.6},{"p":"C3","c":8,"x":3.95,"y":0.7},{"p":"C3","c":8,"x":4.1,"y":0.87},{"p":"C3","c":8,"x":4.2,"y":1.062},
{"p":"C3","c":9,"x":3.982,"y":0.6},{"p":"C3","c":9,"x":4.1,"y":0.74},{"p":"C3","c":9,"x":4.2,"y":0.889},
{"p":"C3","c":10,"x":4.103,"y":0.6},{"p":"C3","c":10,"x":4.2,"y":0.732}
]
},
"columns": 3,
"bounds": "flush",
"spacing": {"row": 68, "column": 159},
"concat": [
{"width": 407, "height": 224, "resolve": {"axis": {"x": "independent", "y": "independent"}},
 "layer": [
  {"data": {"name": "frames"}, "transform": [{"filter": "datum.p=='A1'"}], "mark": {"type": "rect", "fill": "#fffaec", "stroke": "black", "strokeWidth": 4, "clip": false},
   "encoding": {"x": {"field": "x0", "type": "quantitative", "scale": {"domain": [2.8, 4.2], "nice": false, "zero": false}, "axis": null}, "x2": {"field": "x1"},
                "y": {"field": "y0", "type": "quantitative", "scale": {"domain": [0.8, 3.2], "nice": false, "zero": false}, "axis": null}, "y2": {"field": "y1"}}},
  {"data": {"name": "frames"}, "transform": [{"filter": "datum.p=='A1'"}], "mark": {"type": "rect", "fill": "white", "stroke": "black", "strokeWidth": 1},
   "encoding": {"x": {"datum": 2.8, "type": "quantitative", "axis": {"orient": "bottom", "zindex": 1, "title": "pH", "values": [2.8,3.0,3.2,3.4,3.6,3.8,4.0,4.2], "format": ".1f", "ticks": false, "tickSize": 0, "domain": false, "grid": false, "labelFont": "Liberation Serif", "labelFontSize": 14, "labelPadding": 4, "labelFlush": false, "labelOverlap": false, "titleFont": "Liberation Serif", "titleFontSize": 16, "titleFontWeight": "bold", "titleX": 203.5, "titleY": 34, "titleBaseline": "middle"}},
                "x2": {"datum": 4.2},
                "y": {"datum": 0.8, "type": "quantitative", "axis": {"orient": "left", "zindex": 1, "title": "Cinnamon Extract Conc mg/ml", "values": [0.8,1.2,1.6,2.0,2.4,2.8,3.2], "format": ".1f", "ticks": false, "tickSize": 0, "domain": false, "grid": false, "labelFont": "Liberation Serif", "labelFontSize": 14, "labelPadding": 6, "labelFlush": false, "labelOverlap": false, "titleFont": "Liberation Serif", "titleFontSize": 17.5, "titleFontWeight": "normal", "titleAngle": -90, "titleX": -49, "titleY": 102, "titleBaseline": "middle"}},
                "y2": {"datum": 3.2}}},
  {"data": {"name": "lines"}, "transform": [{"filter": "datum.p=='A1'"}], "mark": {"type": "line", "stroke": "black", "strokeWidth": 1, "clip": true},
   "encoding": {"x": {"field": "x", "type": "quantitative", "axis": {"orient": "bottom", "zindex": 1, "offset": -4, "values": [2.9,3.0,3.1,3.2,3.3,3.4,3.5,3.6,3.7,3.8,3.9,4.0,4.1], "labels": false, "domain": false, "grid": false, "ticks": true, "tickSize": 4, "tickWidth": 1, "tickColor": "black", "title": null}},
                "y": {"field": "y", "type": "quantitative", "axis": {"orient": "left", "zindex": 1, "offset": -4, "values": [0.9,1.0,1.1,1.2,1.3,1.4,1.5,1.6,1.7,1.8,1.9,2.0,2.1,2.2,2.3,2.4,2.5,2.6,2.7,2.8,2.9,3.0,3.1], "labels": false, "domain": false, "grid": false, "ticks": true, "tickSize": 4, "tickWidth": 1, "tickColor": "black", "title": null}},
                "detail": {"field": "c"}, "order": {"value": null}}},
  {"data": {"name": "labels"}, "transform": [{"filter": "datum.p=='A1'"}], "mark": {"type": "text", "align": "left", "baseline": "middle", "font": "Liberation Serif", "fontSize": 14, "fill": "white", "stroke": "white", "strokeWidth": 7, "strokeJoin": "round"},
   "encoding": {"x": {"field": "x", "type": "quantitative", "axis": {"orient": "top", "zindex": 1, "offset": -4, "values": [2.9,3.0,3.1,3.2,3.3,3.4,3.5,3.6,3.7,3.8,3.9,4.0,4.1], "labels": false, "domain": false, "grid": false, "ticks": true, "tickSize": 4, "tickWidth": 1, "tickColor": "black", "title": null}},
                "y": {"field": "y", "type": "quantitative", "axis": {"orient": "right", "zindex": 1, "offset": -4, "values": [0.9,1.0,1.1,1.2,1.3,1.4,1.5,1.6,1.7,1.8,1.9,2.0,2.1,2.2,2.3,2.4,2.5,2.6,2.7,2.8,2.9,3.0,3.1], "labels": false, "domain": false, "grid": false, "ticks": true, "tickSize": 4, "tickWidth": 1, "tickColor": "black", "title": null}},
                "text": {"field": "t"}}},
  {"data": {"name": "labels"}, "transform": [{"filter": "datum.p=='A1'"}], "mark": {"type": "text", "align": "left", "baseline": "middle", "font": "Liberation Serif", "fontSize": 10, "dx": 46, "dy": -5, "fill": "white", "stroke": "white", "strokeWidth": 6, "strokeJoin": "round"},
   "encoding": {"x": {"field": "x", "type": "quantitative", "axis": null}, "y": {"field": "y", "type": "quantitative", "axis": null}, "text": {"field": "e"}}},
  {"data": {"name": "labels"}, "transform": [{"filter": "datum.p=='A1'"}], "mark": {"type": "text", "align": "left", "baseline": "middle", "font": "Liberation Serif", "fontSize": 14, "fill": "black"},
   "encoding": {"x": {"field": "x", "type": "quantitative", "axis": null}, "y": {"field": "y", "type": "quantitative", "axis": null}, "text": {"field": "t"}}},
  {"data": {"name": "labels"}, "transform": [{"filter": "datum.p=='A1'"}], "mark": {"type": "text", "align": "left", "baseline": "middle", "font": "Liberation Serif", "fontSize": 10, "dx": 46, "dy": -5, "fill": "black"},
   "encoding": {"x": {"field": "x", "type": "quantitative", "axis": null}, "y": {"field": "y", "type": "quantitative", "axis": null}, "text": {"field": "e"}}},
  {"data": {"name": "rowlab"}, "transform": [{"filter": "datum.p=='A1'"}], "mark": {"type": "text", "align": "left", "baseline": "middle", "font": "Liberation Serif", "fontSize": 28, "fill": "black", "clip": false},
   "encoding": {"x": {"field": "x", "type": "quantitative", "axis": null}, "y": {"field": "y", "type": "quantitative", "axis": null}, "text": {"field": "t"}}}
 ]},
{"width": 400, "height": 224, "resolve": {"axis": {"x": "independent", "y": "independent"}},
 "layer": [
  {"data": {"name": "frames"}, "transform": [{"filter": "datum.p=='A2'"}], "mark": {"type": "rect", "fill": "#fffaec", "stroke": "black", "strokeWidth": 4, "clip": false},
   "encoding": {"x": {"field": "x0", "type": "quantitative", "scale": {"domain": [2.8, 4.2], "nice": false, "zero": false}, "axis": null}, "x2": {"field": "x1"},
                "y": {"field": "y0", "type": "quantitative", "scale": {"domain": [0.1, 1.1], "nice": false, "zero": false}, "axis": null}, "y2": {"field": "y1"}}},
  {"data": {"name": "frames"}, "transform": [{"filter": "datum.p=='A2'"}], "mark": {"type": "rect", "fill": "white", "stroke": "black", "strokeWidth": 1},
   "encoding": {"x": {"datum": 2.8, "type": "quantitative", "axis": {"orient": "bottom", "zindex": 1, "title": "pH", "values": [2.8,3.0,3.2,3.4,3.6,3.8,4.0,4.2], "format": ".1f", "ticks": false, "tickSize": 0, "domain": false, "grid": false, "labelFont": "Liberation Serif", "labelFontSize": 14, "labelPadding": 4, "labelFlush": false, "labelOverlap": false, "titleFont": "Liberation Serif", "titleFontSize": 16, "titleFontWeight": "bold", "titleX": 200, "titleY": 34, "titleBaseline": "middle"}},
                "x2": {"datum": 4.2},
                "y": {"datum": 0.1, "type": "quantitative", "axis": {"orient": "left", "zindex": 1, "title": "Clove Extract Conc mg/ml", "values": [0.1,0.3,0.5,0.7,0.9,1.1], "format": ".1f", "ticks": false, "tickSize": 0, "domain": false, "grid": false, "labelFont": "Liberation Serif", "labelFontSize": 14, "labelPadding": 6, "labelFlush": false, "labelOverlap": false, "titleFont": "Liberation Serif", "titleFontSize": 15, "titleFontWeight": "normal", "titleAngle": -90, "titleX": -49, "titleY": 116, "titleBaseline": "middle"}},
                "y2": {"datum": 1.1}}},
  {"data": {"name": "lines"}, "transform": [{"filter": "datum.p=='A2'"}], "mark": {"type": "line", "stroke": "black", "strokeWidth": 1, "clip": true},
   "encoding": {"x": {"field": "x", "type": "quantitative", "axis": {"orient": "bottom", "zindex": 1, "offset": -4, "values": [2.9,3.0,3.1,3.2,3.3,3.4,3.5,3.6,3.7,3.8,3.9,4.0,4.1], "labels": false, "domain": false, "grid": false, "ticks": true, "tickSize": 4, "tickWidth": 1, "tickColor": "black", "title": null}},
                "y": {"field": "y", "type": "quantitative", "axis": {"orient": "left", "zindex": 1, "offset": -4, "values": [0.15,0.2,0.25,0.3,0.35,0.4,0.45,0.5,0.55,0.6,0.65,0.7,0.75,0.8,0.85,0.9,0.95,1.0,1.05], "labels": false, "domain": false, "grid": false, "ticks": true, "tickSize": 4, "tickWidth": 1, "tickColor": "black", "title": null}},
                "detail": {"field": "c"}, "order": {"value": null}}},
  {"data": {"name": "labels"}, "transform": [{"filter": "datum.p=='A2'"}], "mark": {"type": "text", "align": "left", "baseline": "middle", "font": "Liberation Sans", "fontSize": 11.5, "fill": "white", "stroke": "white", "strokeWidth": 7, "strokeJoin": "round"},
   "encoding": {"x": {"field": "x", "type": "quantitative", "axis": {"orient": "top", "zindex": 1, "offset": -4, "values": [2.9,3.0,3.1,3.2,3.3,3.4,3.5,3.6,3.7,3.8,3.9,4.0,4.1], "labels": false, "domain": false, "grid": false, "ticks": true, "tickSize": 4, "tickWidth": 1, "tickColor": "black", "title": null}},
                "y": {"field": "y", "type": "quantitative", "axis": {"orient": "right", "zindex": 1, "offset": -4, "values": [0.15,0.2,0.25,0.3,0.35,0.4,0.45,0.5,0.55,0.6,0.65,0.7,0.75,0.8,0.85,0.9,0.95,1.0,1.05], "labels": false, "domain": false, "grid": false, "ticks": true, "tickSize": 4, "tickWidth": 1, "tickColor": "black", "title": null}},
                "text": {"field": "t"}}},
  {"data": {"name": "labels"}, "transform": [{"filter": "datum.p=='A2'"}], "mark": {"type": "text", "align": "left", "baseline": "middle", "font": "Liberation Sans", "fontSize": 8.5, "dx": 41.5, "dy": -4.5, "fill": "white", "stroke": "white", "strokeWidth": 6, "strokeJoin": "round"},
   "encoding": {"x": {"field": "x", "type": "quantitative", "axis": null}, "y": {"field": "y", "type": "quantitative", "axis": null}, "text": {"field": "e"}}},
  {"data": {"name": "labels"}, "transform": [{"filter": "datum.p=='A2'"}], "mark": {"type": "text", "align": "left", "baseline": "middle", "font": "Liberation Sans", "fontSize": 11.5, "fill": "black"},
   "encoding": {"x": {"field": "x", "type": "quantitative", "axis": null}, "y": {"field": "y", "type": "quantitative", "axis": null}, "text": {"field": "t"}}},
  {"data": {"name": "labels"}, "transform": [{"filter": "datum.p=='A2'"}], "mark": {"type": "text", "align": "left", "baseline": "middle", "font": "Liberation Sans", "fontSize": 8.5, "dx": 41.5, "dy": -4.5, "fill": "black"},
   "encoding": {"x": {"field": "x", "type": "quantitative", "axis": null}, "y": {"field": "y", "type": "quantitative", "axis": null}, "text": {"field": "e"}}}
 ]},
{"width": 411, "height": 224, "resolve": {"axis": {"x": "independent", "y": "independent"}},
 "layer": [
  {"data": {"name": "frames"}, "transform": [{"filter": "datum.p=='A3'"}], "mark": {"type": "rect", "fill": "#fffaec", "stroke": "black", "strokeWidth": 4, "clip": false},
   "encoding": {"x": {"field": "x0", "type": "quantitative", "scale": {"domain": [2.8, 4.2], "nice": false, "zero": false}, "axis": null}, "x2": {"field": "x1"},
                "y": {"field": "y0", "type": "quantitative", "scale": {"domain": [0.6, 2.6], "nice": false, "zero": false}, "axis": null}, "y2": {"field": "y1"}}},
  {"data": {"name": "frames"}, "transform": [{"filter": "datum.p=='A3'"}], "mark": {"type": "rect", "fill": "white", "stroke": "black", "strokeWidth": 1},
   "encoding": {"x": {"datum": 2.8, "type": "quantitative", "axis": {"orient": "bottom", "zindex": 1, "title": "pH", "values": [2.8,3.0,3.2,3.4,3.6,3.8,4.0,4.2], "format": ".1f", "ticks": false, "tickSize": 0, "domain": false, "grid": false, "labelFont": "Liberation Serif", "labelFontSize": 14, "labelPadding": 4, "labelFlush": false, "labelOverlap": false, "titleFont": "Liberation Serif", "titleFontSize": 16, "titleFontWeight": "bold", "titleX": 205.5, "titleY": 34, "titleBaseline": "middle"}},
                "x2": {"datum": 4.2},
                "y": {"datum": 0.6, "type": "quantitative", "axis": {"orient": "left", "zindex": 1, "title": "Potassium sorbate Conc mg/ml", "values": [0.6,1.0,1.4,1.8,2.2,2.6], "format": ".1f", "ticks": false, "tickSize": 0, "domain": false, "grid": false, "labelFont": "Liberation Serif", "labelFontSize": 14, "labelPadding": 6, "labelFlush": false, "labelOverlap": false, "titleFont": "Liberation Serif", "titleFontSize": 15, "titleFontWeight": "normal", "titleAngle": -90, "titleX": -49, "titleY": 117, "titleBaseline": "middle"}},
                "y2": {"datum": 2.6}}},
  {"data": {"name": "lines"}, "transform": [{"filter": "datum.p=='A3'"}], "mark": {"type": "line", "stroke": "black", "strokeWidth": 1, "clip": true},
   "encoding": {"x": {"field": "x", "type": "quantitative", "axis": {"orient": "bottom", "zindex": 1, "offset": -4, "values": [2.9,3.0,3.1,3.2,3.3,3.4,3.5,3.6,3.7,3.8,3.9,4.0,4.1], "labels": false, "domain": false, "grid": false, "ticks": true, "tickSize": 4, "tickWidth": 1, "tickColor": "black", "title": null}},
                "y": {"field": "y", "type": "quantitative", "axis": {"orient": "left", "zindex": 1, "offset": -4, "values": [0.7,0.8,0.9,1.0,1.1,1.2,1.3,1.4,1.5,1.6,1.7,1.8,1.9,2.0,2.1,2.2,2.3,2.4,2.5], "labels": false, "domain": false, "grid": false, "ticks": true, "tickSize": 4, "tickWidth": 1, "tickColor": "black", "title": null}},
                "detail": {"field": "c"}, "order": {"value": null}}},
  {"data": {"name": "labels"}, "transform": [{"filter": "datum.p=='A3'"}], "mark": {"type": "text", "align": "left", "baseline": "middle", "font": "Liberation Serif", "fontSize": 14, "fill": "white", "stroke": "white", "strokeWidth": 7, "strokeJoin": "round"},
   "encoding": {"x": {"field": "x", "type": "quantitative", "axis": {"orient": "top", "zindex": 1, "offset": -4, "values": [2.9,3.0,3.1,3.2,3.3,3.4,3.5,3.6,3.7,3.8,3.9,4.0,4.1], "labels": false, "domain": false, "grid": false, "ticks": true, "tickSize": 4, "tickWidth": 1, "tickColor": "black", "title": null}},
                "y": {"field": "y", "type": "quantitative", "axis": {"orient": "right", "zindex": 1, "offset": -4, "values": [0.7,0.8,0.9,1.0,1.1,1.2,1.3,1.4,1.5,1.6,1.7,1.8,1.9,2.0,2.1,2.2,2.3,2.4,2.5], "labels": false, "domain": false, "grid": false, "ticks": true, "tickSize": 4, "tickWidth": 1, "tickColor": "black", "title": null}},
                "text": {"field": "t"}}},
  {"data": {"name": "labels"}, "transform": [{"filter": "datum.p=='A3'"}], "mark": {"type": "text", "align": "left", "baseline": "middle", "font": "Liberation Serif", "fontSize": 10, "dx": 46, "dy": -5, "fill": "white", "stroke": "white", "strokeWidth": 6, "strokeJoin": "round"},
   "encoding": {"x": {"field": "x", "type": "quantitative", "axis": null}, "y": {"field": "y", "type": "quantitative", "axis": null}, "text": {"field": "e"}}},
  {"data": {"name": "labels"}, "transform": [{"filter": "datum.p=='A3'"}], "mark": {"type": "text", "align": "left", "baseline": "middle", "font": "Liberation Serif", "fontSize": 14, "fill": "black"},
   "encoding": {"x": {"field": "x", "type": "quantitative", "axis": null}, "y": {"field": "y", "type": "quantitative", "axis": null}, "text": {"field": "t"}}},
  {"data": {"name": "labels"}, "transform": [{"filter": "datum.p=='A3'"}], "mark": {"type": "text", "align": "left", "baseline": "middle", "font": "Liberation Serif", "fontSize": 10, "dx": 46, "dy": -5, "fill": "black"},
   "encoding": {"x": {"field": "x", "type": "quantitative", "axis": null}, "y": {"field": "y", "type": "quantitative", "axis": null}, "text": {"field": "e"}}}
 ]},
{"width": 407, "height": 224, "resolve": {"axis": {"x": "independent", "y": "independent"}},
 "layer": [
  {"data": {"name": "frames"}, "transform": [{"filter": "datum.p=='B1'"}], "mark": {"type": "rect", "fill": "#fffaec", "stroke": "black", "strokeWidth": 4, "clip": false},
   "encoding": {"x": {"field": "x0", "type": "quantitative", "scale": {"domain": [2.8, 4.2], "nice": false, "zero": false}, "axis": null}, "x2": {"field": "x1"},
                "y": {"field": "y0", "type": "quantitative", "scale": {"domain": [0.8, 3.2], "nice": false, "zero": false}, "axis": null}, "y2": {"field": "y1"}}},
  {"data": {"name": "frames"}, "transform": [{"filter": "datum.p=='B1'"}], "mark": {"type": "rect", "fill": "white", "stroke": "black", "strokeWidth": 1},
   "encoding": {"x": {"datum": 2.8, "type": "quantitative", "axis": {"orient": "bottom", "zindex": 1, "title": "pH", "values": [2.8,3.0,3.2,3.4,3.6,3.8,4.0,4.2], "format": ".1f", "ticks": false, "tickSize": 0, "domain": false, "grid": false, "labelFont": "Liberation Serif", "labelFontSize": 14, "labelPadding": 4, "labelFlush": false, "labelOverlap": false, "titleFont": "Liberation Serif", "titleFontSize": 16, "titleFontWeight": "bold", "titleX": 203.5, "titleY": 34, "titleBaseline": "middle"}},
                "x2": {"datum": 4.2},
                "y": {"datum": 0.8, "type": "quantitative", "axis": {"orient": "left", "zindex": 1, "title": "Cinnamon Extract Conc mg/ml", "values": [0.8,1.2,1.6,2.0,2.4,2.8,3.2], "format": ".1f", "ticks": false, "tickSize": 0, "domain": false, "grid": false, "labelFont": "Liberation Serif", "labelFontSize": 14, "labelPadding": 6, "labelFlush": false, "labelOverlap": false, "titleFont": "Liberation Serif", "titleFontSize": 17.5, "titleFontWeight": "normal", "titleAngle": -90, "titleX": -49, "titleY": 102, "titleBaseline": "middle"}},
                "y2": {"datum": 3.2}}},
  {"data": {"name": "lines"}, "transform": [{"filter": "datum.p=='B1'"}], "mark": {"type": "line", "stroke": "black", "strokeWidth": 1, "clip": true},
   "encoding": {"x": {"field": "x", "type": "quantitative", "axis": {"orient": "bottom", "zindex": 1, "offset": -4, "values": [2.9,3.0,3.1,3.2,3.3,3.4,3.5,3.6,3.7,3.8,3.9,4.0,4.1], "labels": false, "domain": false, "grid": false, "ticks": true, "tickSize": 4, "tickWidth": 1, "tickColor": "black", "title": null}},
                "y": {"field": "y", "type": "quantitative", "axis": {"orient": "left", "zindex": 1, "offset": -4, "values": [0.9,1.0,1.1,1.2,1.3,1.4,1.5,1.6,1.7,1.8,1.9,2.0,2.1,2.2,2.3,2.4,2.5,2.6,2.7,2.8,2.9,3.0,3.1], "labels": false, "domain": false, "grid": false, "ticks": true, "tickSize": 4, "tickWidth": 1, "tickColor": "black", "title": null}},
                "detail": {"field": "c"}, "order": {"value": null}}},
  {"data": {"name": "labels"}, "transform": [{"filter": "datum.p=='B1'"}], "mark": {"type": "text", "align": "left", "baseline": "middle", "font": "Liberation Serif", "fontSize": 14, "fill": "white", "stroke": "white", "strokeWidth": 7, "strokeJoin": "round"},
   "encoding": {"x": {"field": "x", "type": "quantitative", "axis": {"orient": "top", "zindex": 1, "offset": -4, "values": [2.9,3.0,3.1,3.2,3.3,3.4,3.5,3.6,3.7,3.8,3.9,4.0,4.1], "labels": false, "domain": false, "grid": false, "ticks": true, "tickSize": 4, "tickWidth": 1, "tickColor": "black", "title": null}},
                "y": {"field": "y", "type": "quantitative", "axis": {"orient": "right", "zindex": 1, "offset": -4, "values": [0.9,1.0,1.1,1.2,1.3,1.4,1.5,1.6,1.7,1.8,1.9,2.0,2.1,2.2,2.3,2.4,2.5,2.6,2.7,2.8,2.9,3.0,3.1], "labels": false, "domain": false, "grid": false, "ticks": true, "tickSize": 4, "tickWidth": 1, "tickColor": "black", "title": null}},
                "text": {"field": "t"}}},
  {"data": {"name": "labels"}, "transform": [{"filter": "datum.p=='B1'"}], "mark": {"type": "text", "align": "left", "baseline": "middle", "font": "Liberation Serif", "fontSize": 10, "dx": 46, "dy": -5, "fill": "white", "stroke": "white", "strokeWidth": 6, "strokeJoin": "round"},
   "encoding": {"x": {"field": "x", "type": "quantitative", "axis": null}, "y": {"field": "y", "type": "quantitative", "axis": null}, "text": {"field": "e"}}},
  {"data": {"name": "labels"}, "transform": [{"filter": "datum.p=='B1'"}], "mark": {"type": "text", "align": "left", "baseline": "middle", "font": "Liberation Serif", "fontSize": 14, "fill": "black"},
   "encoding": {"x": {"field": "x", "type": "quantitative", "axis": null}, "y": {"field": "y", "type": "quantitative", "axis": null}, "text": {"field": "t"}}},
  {"data": {"name": "labels"}, "transform": [{"filter": "datum.p=='B1'"}], "mark": {"type": "text", "align": "left", "baseline": "middle", "font": "Liberation Serif", "fontSize": 10, "dx": 46, "dy": -5, "fill": "black"},
   "encoding": {"x": {"field": "x", "type": "quantitative", "axis": null}, "y": {"field": "y", "type": "quantitative", "axis": null}, "text": {"field": "e"}}},
  {"data": {"name": "rowlab"}, "transform": [{"filter": "datum.p=='B1'"}], "mark": {"type": "text", "align": "left", "baseline": "middle", "font": "Liberation Serif", "fontSize": 28, "fill": "black", "clip": false},
   "encoding": {"x": {"field": "x", "type": "quantitative", "axis": null}, "y": {"field": "y", "type": "quantitative", "axis": null}, "text": {"field": "t"}}}
 ]},
{"width": 400, "height": 224, "resolve": {"axis": {"x": "independent", "y": "independent"}},
 "layer": [
  {"data": {"name": "frames"}, "transform": [{"filter": "datum.p=='B2'"}], "mark": {"type": "rect", "fill": "#fffaec", "stroke": "black", "strokeWidth": 4, "clip": false},
   "encoding": {"x": {"field": "x0", "type": "quantitative", "scale": {"domain": [2.8, 4.2], "nice": false, "zero": false}, "axis": null}, "x2": {"field": "x1"},
                "y": {"field": "y0", "type": "quantitative", "scale": {"domain": [0.1, 1.1], "nice": false, "zero": false}, "axis": null}, "y2": {"field": "y1"}}},
  {"data": {"name": "frames"}, "transform": [{"filter": "datum.p=='B2'"}], "mark": {"type": "rect", "fill": "white", "stroke": "black", "strokeWidth": 1},
   "encoding": {"x": {"datum": 2.8, "type": "quantitative", "axis": {"orient": "bottom", "zindex": 1, "title": "pH", "values": [2.8,3.0,3.2,3.4,3.6,3.8,4.0,4.2], "format": ".1f", "ticks": false, "tickSize": 0, "domain": false, "grid": false, "labelFont": "Liberation Serif", "labelFontSize": 14, "labelPadding": 4, "labelFlush": false, "labelOverlap": false, "titleFont": "Liberation Serif", "titleFontSize": 16, "titleFontWeight": "bold", "titleX": 200, "titleY": 34, "titleBaseline": "middle"}},
                "x2": {"datum": 4.2},
                "y": {"datum": 0.1, "type": "quantitative", "axis": {"orient": "left", "zindex": 1, "title": "Clove Extract Conc mg/ml", "values": [0.1,0.3,0.5,0.7,0.9,1.1], "format": ".1f", "ticks": false, "tickSize": 0, "domain": false, "grid": false, "labelFont": "Liberation Serif", "labelFontSize": 14, "labelPadding": 6, "labelFlush": false, "labelOverlap": false, "titleFont": "Liberation Serif", "titleFontSize": 15, "titleFontWeight": "normal", "titleAngle": -90, "titleX": -49, "titleY": 116, "titleBaseline": "middle"}},
                "y2": {"datum": 1.1}}},
  {"data": {"name": "lines"}, "transform": [{"filter": "datum.p=='B2'"}], "mark": {"type": "line", "stroke": "black", "strokeWidth": 1, "clip": true},
   "encoding": {"x": {"field": "x", "type": "quantitative", "axis": {"orient": "bottom", "zindex": 1, "offset": -4, "values": [2.9,3.0,3.1,3.2,3.3,3.4,3.5,3.6,3.7,3.8,3.9,4.0,4.1], "labels": false, "domain": false, "grid": false, "ticks": true, "tickSize": 4, "tickWidth": 1, "tickColor": "black", "title": null}},
                "y": {"field": "y", "type": "quantitative", "axis": {"orient": "left", "zindex": 1, "offset": -4, "values": [0.15,0.2,0.25,0.3,0.35,0.4,0.45,0.5,0.55,0.6,0.65,0.7,0.75,0.8,0.85,0.9,0.95,1.0,1.05], "labels": false, "domain": false, "grid": false, "ticks": true, "tickSize": 4, "tickWidth": 1, "tickColor": "black", "title": null}},
                "detail": {"field": "c"}, "order": {"value": null}}},
  {"data": {"name": "labels"}, "transform": [{"filter": "datum.p=='B2'"}], "mark": {"type": "text", "align": "left", "baseline": "middle", "font": "Liberation Serif", "fontSize": 14, "fill": "white", "stroke": "white", "strokeWidth": 7, "strokeJoin": "round"},
   "encoding": {"x": {"field": "x", "type": "quantitative", "axis": {"orient": "top", "zindex": 1, "offset": -4, "values": [2.9,3.0,3.1,3.2,3.3,3.4,3.5,3.6,3.7,3.8,3.9,4.0,4.1], "labels": false, "domain": false, "grid": false, "ticks": true, "tickSize": 4, "tickWidth": 1, "tickColor": "black", "title": null}},
                "y": {"field": "y", "type": "quantitative", "axis": {"orient": "right", "zindex": 1, "offset": -4, "values": [0.15,0.2,0.25,0.3,0.35,0.4,0.45,0.5,0.55,0.6,0.65,0.7,0.75,0.8,0.85,0.9,0.95,1.0,1.05], "labels": false, "domain": false, "grid": false, "ticks": true, "tickSize": 4, "tickWidth": 1, "tickColor": "black", "title": null}},
                "text": {"field": "t"}}},
  {"data": {"name": "labels"}, "transform": [{"filter": "datum.p=='B2'"}], "mark": {"type": "text", "align": "left", "baseline": "middle", "font": "Liberation Serif", "fontSize": 10, "dx": 46, "dy": -5, "fill": "white", "stroke": "white", "strokeWidth": 6, "strokeJoin": "round"},
   "encoding": {"x": {"field": "x", "type": "quantitative", "axis": null}, "y": {"field": "y", "type": "quantitative", "axis": null}, "text": {"field": "e"}}},
  {"data": {"name": "labels"}, "transform": [{"filter": "datum.p=='B2'"}], "mark": {"type": "text", "align": "left", "baseline": "middle", "font": "Liberation Serif", "fontSize": 14, "fill": "black"},
   "encoding": {"x": {"field": "x", "type": "quantitative", "axis": null}, "y": {"field": "y", "type": "quantitative", "axis": null}, "text": {"field": "t"}}},
  {"data": {"name": "labels"}, "transform": [{"filter": "datum.p=='B2'"}], "mark": {"type": "text", "align": "left", "baseline": "middle", "font": "Liberation Serif", "fontSize": 10, "dx": 46, "dy": -5, "fill": "black"},
   "encoding": {"x": {"field": "x", "type": "quantitative", "axis": null}, "y": {"field": "y", "type": "quantitative", "axis": null}, "text": {"field": "e"}}}
 ]},
{"width": 411, "height": 224, "resolve": {"axis": {"x": "independent", "y": "independent"}},
 "layer": [
  {"data": {"name": "frames"}, "transform": [{"filter": "datum.p=='B3'"}], "mark": {"type": "rect", "fill": "#fffaec", "stroke": "black", "strokeWidth": 4, "clip": false},
   "encoding": {"x": {"field": "x0", "type": "quantitative", "scale": {"domain": [2.8, 4.2], "nice": false, "zero": false}, "axis": null}, "x2": {"field": "x1"},
                "y": {"field": "y0", "type": "quantitative", "scale": {"domain": [0.6, 2.6], "nice": false, "zero": false}, "axis": null}, "y2": {"field": "y1"}}},
  {"data": {"name": "frames"}, "transform": [{"filter": "datum.p=='B3'"}], "mark": {"type": "rect", "fill": "white", "stroke": "black", "strokeWidth": 1},
   "encoding": {"x": {"datum": 2.8, "type": "quantitative", "axis": {"orient": "bottom", "zindex": 1, "title": "pH", "values": [2.8,3.0,3.2,3.4,3.6,3.8,4.0,4.2], "format": ".1f", "ticks": false, "tickSize": 0, "domain": false, "grid": false, "labelFont": "Liberation Serif", "labelFontSize": 14, "labelPadding": 4, "labelFlush": false, "labelOverlap": false, "titleFont": "Liberation Serif", "titleFontSize": 16, "titleFontWeight": "bold", "titleX": 205.5, "titleY": 34, "titleBaseline": "middle"}},
                "x2": {"datum": 4.2},
                "y": {"datum": 0.6, "type": "quantitative", "axis": {"orient": "left", "zindex": 1, "title": "Potassium sorbate Conc mg/ml", "values": [0.6,1.0,1.4,1.8,2.2,2.6], "format": ".1f", "ticks": false, "tickSize": 0, "domain": false, "grid": false, "labelFont": "Liberation Serif", "labelFontSize": 14, "labelPadding": 6, "labelFlush": false, "labelOverlap": false, "titleFont": "Liberation Serif", "titleFontSize": 15, "titleFontWeight": "normal", "titleAngle": -90, "titleX": -49, "titleY": 117, "titleBaseline": "middle"}},
                "y2": {"datum": 2.6}}},
  {"data": {"name": "lines"}, "transform": [{"filter": "datum.p=='B3'"}], "mark": {"type": "line", "stroke": "black", "strokeWidth": 1, "clip": true},
   "encoding": {"x": {"field": "x", "type": "quantitative", "axis": {"orient": "bottom", "zindex": 1, "offset": -4, "values": [2.9,3.0,3.1,3.2,3.3,3.4,3.5,3.6,3.7,3.8,3.9,4.0,4.1], "labels": false, "domain": false, "grid": false, "ticks": true, "tickSize": 4, "tickWidth": 1, "tickColor": "black", "title": null}},
                "y": {"field": "y", "type": "quantitative", "axis": {"orient": "left", "zindex": 1, "offset": -4, "values": [0.7,0.8,0.9,1.0,1.1,1.2,1.3,1.4,1.5,1.6,1.7,1.8,1.9,2.0,2.1,2.2,2.3,2.4,2.5], "labels": false, "domain": false, "grid": false, "ticks": true, "tickSize": 4, "tickWidth": 1, "tickColor": "black", "title": null}},
                "detail": {"field": "c"}, "order": {"value": null}}},
  {"data": {"name": "labels"}, "transform": [{"filter": "datum.p=='B3'"}], "mark": {"type": "text", "align": "left", "baseline": "middle", "font": "Liberation Serif", "fontSize": 14, "fill": "white", "stroke": "white", "strokeWidth": 7, "strokeJoin": "round"},
   "encoding": {"x": {"field": "x", "type": "quantitative", "axis": {"orient": "top", "zindex": 1, "offset": -4, "values": [2.9,3.0,3.1,3.2,3.3,3.4,3.5,3.6,3.7,3.8,3.9,4.0,4.1], "labels": false, "domain": false, "grid": false, "ticks": true, "tickSize": 4, "tickWidth": 1, "tickColor": "black", "title": null}},
                "y": {"field": "y", "type": "quantitative", "axis": {"orient": "right", "zindex": 1, "offset": -4, "values": [0.7,0.8,0.9,1.0,1.1,1.2,1.3,1.4,1.5,1.6,1.7,1.8,1.9,2.0,2.1,2.2,2.3,2.4,2.5], "labels": false, "domain": false, "grid": false, "ticks": true, "tickSize": 4, "tickWidth": 1, "tickColor": "black", "title": null}},
                "text": {"field": "t"}}},
  {"data": {"name": "labels"}, "transform": [{"filter": "datum.p=='B3'"}], "mark": {"type": "text", "align": "left", "baseline": "middle", "font": "Liberation Serif", "fontSize": 10, "dx": 46, "dy": -5, "fill": "white", "stroke": "white", "strokeWidth": 6, "strokeJoin": "round"},
   "encoding": {"x": {"field": "x", "type": "quantitative", "axis": null}, "y": {"field": "y", "type": "quantitative", "axis": null}, "text": {"field": "e"}}},
  {"data": {"name": "labels"}, "transform": [{"filter": "datum.p=='B3'"}], "mark": {"type": "text", "align": "left", "baseline": "middle", "font": "Liberation Serif", "fontSize": 14, "fill": "black"},
   "encoding": {"x": {"field": "x", "type": "quantitative", "axis": null}, "y": {"field": "y", "type": "quantitative", "axis": null}, "text": {"field": "t"}}},
  {"data": {"name": "labels"}, "transform": [{"filter": "datum.p=='B3'"}], "mark": {"type": "text", "align": "left", "baseline": "middle", "font": "Liberation Serif", "fontSize": 10, "dx": 46, "dy": -5, "fill": "black"},
   "encoding": {"x": {"field": "x", "type": "quantitative", "axis": null}, "y": {"field": "y", "type": "quantitative", "axis": null}, "text": {"field": "e"}}}
 ]},
{"width": 407, "height": 221, "resolve": {"axis": {"x": "independent", "y": "independent"}},
 "layer": [
  {"data": {"name": "frames"}, "transform": [{"filter": "datum.p=='C1'"}], "mark": {"type": "rect", "fill": "#fffaec", "stroke": "black", "strokeWidth": 4, "clip": false},
   "encoding": {"x": {"field": "x0", "type": "quantitative", "scale": {"domain": [2.8, 4.2], "nice": false, "zero": false}, "axis": null}, "x2": {"field": "x1"},
                "y": {"field": "y0", "type": "quantitative", "scale": {"domain": [0.8, 3.2], "nice": false, "zero": false}, "axis": null}, "y2": {"field": "y1"}}},
  {"data": {"name": "frames"}, "transform": [{"filter": "datum.p=='C1'"}], "mark": {"type": "rect", "fill": "white", "stroke": "black", "strokeWidth": 1},
   "encoding": {"x": {"datum": 2.8, "type": "quantitative", "axis": {"orient": "bottom", "zindex": 1, "title": "pH", "values": [2.8,3.0,3.2,3.4,3.6,3.8,4.0,4.2], "format": ".1f", "ticks": false, "tickSize": 0, "domain": false, "grid": false, "labelFont": "Liberation Serif", "labelFontSize": 14, "labelPadding": 4, "labelFlush": false, "labelOverlap": false, "titleFont": "Liberation Serif", "titleFontSize": 16, "titleFontWeight": "bold", "titleX": 203.5, "titleY": 34, "titleBaseline": "middle"}},
                "x2": {"datum": 4.2},
                "y": {"datum": 0.8, "type": "quantitative", "axis": {"orient": "left", "zindex": 1, "title": "Cinnamon Extract Conc mg/ml", "values": [0.8,1.2,1.6,2.0,2.4,2.8,3.2], "format": ".1f", "ticks": false, "tickSize": 0, "domain": false, "grid": false, "labelFont": "Liberation Serif", "labelFontSize": 14, "labelPadding": 6, "labelFlush": false, "labelOverlap": false, "titleFont": "Liberation Serif", "titleFontSize": 17.5, "titleFontWeight": "normal", "titleAngle": -90, "titleX": -49, "titleY": 100, "titleBaseline": "middle"}},
                "y2": {"datum": 3.2}}},
  {"data": {"name": "lines"}, "transform": [{"filter": "datum.p=='C1'"}], "mark": {"type": "line", "stroke": "black", "strokeWidth": 1, "clip": true},
   "encoding": {"x": {"field": "x", "type": "quantitative", "axis": {"orient": "bottom", "zindex": 1, "offset": -4, "values": [2.9,3.0,3.1,3.2,3.3,3.4,3.5,3.6,3.7,3.8,3.9,4.0,4.1], "labels": false, "domain": false, "grid": false, "ticks": true, "tickSize": 4, "tickWidth": 1, "tickColor": "black", "title": null}},
                "y": {"field": "y", "type": "quantitative", "axis": {"orient": "left", "zindex": 1, "offset": -4, "values": [0.9,1.0,1.1,1.2,1.3,1.4,1.5,1.6,1.7,1.8,1.9,2.0,2.1,2.2,2.3,2.4,2.5,2.6,2.7,2.8,2.9,3.0,3.1], "labels": false, "domain": false, "grid": false, "ticks": true, "tickSize": 4, "tickWidth": 1, "tickColor": "black", "title": null}},
                "detail": {"field": "c"}, "order": {"value": null}}},
  {"data": {"name": "labels"}, "transform": [{"filter": "datum.p=='C1'"}], "mark": {"type": "text", "align": "left", "baseline": "middle", "font": "Liberation Serif", "fontSize": 14, "fill": "white", "stroke": "white", "strokeWidth": 7, "strokeJoin": "round"},
   "encoding": {"x": {"field": "x", "type": "quantitative", "axis": {"orient": "top", "zindex": 1, "offset": -4, "values": [2.9,3.0,3.1,3.2,3.3,3.4,3.5,3.6,3.7,3.8,3.9,4.0,4.1], "labels": false, "domain": false, "grid": false, "ticks": true, "tickSize": 4, "tickWidth": 1, "tickColor": "black", "title": null}},
                "y": {"field": "y", "type": "quantitative", "axis": {"orient": "right", "zindex": 1, "offset": -4, "values": [0.9,1.0,1.1,1.2,1.3,1.4,1.5,1.6,1.7,1.8,1.9,2.0,2.1,2.2,2.3,2.4,2.5,2.6,2.7,2.8,2.9,3.0,3.1], "labels": false, "domain": false, "grid": false, "ticks": true, "tickSize": 4, "tickWidth": 1, "tickColor": "black", "title": null}},
                "text": {"field": "t"}}},
  {"data": {"name": "labels"}, "transform": [{"filter": "datum.p=='C1'"}], "mark": {"type": "text", "align": "left", "baseline": "middle", "font": "Liberation Serif", "fontSize": 10, "dx": 46, "dy": -5, "fill": "white", "stroke": "white", "strokeWidth": 6, "strokeJoin": "round"},
   "encoding": {"x": {"field": "x", "type": "quantitative", "axis": null}, "y": {"field": "y", "type": "quantitative", "axis": null}, "text": {"field": "e"}}},
  {"data": {"name": "labels"}, "transform": [{"filter": "datum.p=='C1'"}], "mark": {"type": "text", "align": "left", "baseline": "middle", "font": "Liberation Serif", "fontSize": 14, "fill": "black"},
   "encoding": {"x": {"field": "x", "type": "quantitative", "axis": null}, "y": {"field": "y", "type": "quantitative", "axis": null}, "text": {"field": "t"}}},
  {"data": {"name": "labels"}, "transform": [{"filter": "datum.p=='C1'"}], "mark": {"type": "text", "align": "left", "baseline": "middle", "font": "Liberation Serif", "fontSize": 10, "dx": 46, "dy": -5, "fill": "black"},
   "encoding": {"x": {"field": "x", "type": "quantitative", "axis": null}, "y": {"field": "y", "type": "quantitative", "axis": null}, "text": {"field": "e"}}},
  {"data": {"name": "rowlab"}, "transform": [{"filter": "datum.p=='C1'"}], "mark": {"type": "text", "align": "left", "baseline": "middle", "font": "Liberation Serif", "fontSize": 28, "fill": "black", "clip": false},
   "encoding": {"x": {"field": "x", "type": "quantitative", "axis": null}, "y": {"field": "y", "type": "quantitative", "axis": null}, "text": {"field": "t"}}}
 ]},
{"width": 400, "height": 221, "resolve": {"axis": {"x": "independent", "y": "independent"}},
 "layer": [
  {"data": {"name": "frames"}, "transform": [{"filter": "datum.p=='C2'"}], "mark": {"type": "rect", "fill": "#fffaec", "stroke": "black", "strokeWidth": 4, "clip": false},
   "encoding": {"x": {"field": "x0", "type": "quantitative", "scale": {"domain": [2.8, 4.2], "nice": false, "zero": false}, "axis": null}, "x2": {"field": "x1"},
                "y": {"field": "y0", "type": "quantitative", "scale": {"domain": [0.1, 1.1], "nice": false, "zero": false}, "axis": null}, "y2": {"field": "y1"}}},
  {"data": {"name": "frames"}, "transform": [{"filter": "datum.p=='C2'"}], "mark": {"type": "rect", "fill": "white", "stroke": "black", "strokeWidth": 1},
   "encoding": {"x": {"datum": 2.8, "type": "quantitative", "axis": {"orient": "bottom", "zindex": 1, "title": "pH", "values": [2.8,3.0,3.2,3.4,3.6,3.8,4.0,4.2], "format": ".1f", "ticks": false, "tickSize": 0, "domain": false, "grid": false, "labelFont": "Liberation Serif", "labelFontSize": 14, "labelPadding": 4, "labelFlush": false, "labelOverlap": false, "titleFont": "Liberation Serif", "titleFontSize": 16, "titleFontWeight": "bold", "titleX": 200, "titleY": 34, "titleBaseline": "middle"}},
                "x2": {"datum": 4.2},
                "y": {"datum": 0.1, "type": "quantitative", "axis": {"orient": "left", "zindex": 1, "title": "Clove Extract Conc mg/ml", "values": [0.1,0.3,0.5,0.7,0.9,1.1], "format": ".1f", "ticks": false, "tickSize": 0, "domain": false, "grid": false, "labelFont": "Liberation Serif", "labelFontSize": 14, "labelPadding": 6, "labelFlush": false, "labelOverlap": false, "titleFont": "Liberation Serif", "titleFontSize": 15, "titleFontWeight": "normal", "titleAngle": -90, "titleX": -49, "titleY": 114, "titleBaseline": "middle"}},
                "y2": {"datum": 1.1}}},
  {"data": {"name": "lines"}, "transform": [{"filter": "datum.p=='C2'"}], "mark": {"type": "line", "stroke": "black", "strokeWidth": 1, "clip": true},
   "encoding": {"x": {"field": "x", "type": "quantitative", "axis": {"orient": "bottom", "zindex": 1, "offset": -4, "values": [2.9,3.0,3.1,3.2,3.3,3.4,3.5,3.6,3.7,3.8,3.9,4.0,4.1], "labels": false, "domain": false, "grid": false, "ticks": true, "tickSize": 4, "tickWidth": 1, "tickColor": "black", "title": null}},
                "y": {"field": "y", "type": "quantitative", "axis": {"orient": "left", "zindex": 1, "offset": -4, "values": [0.15,0.2,0.25,0.3,0.35,0.4,0.45,0.5,0.55,0.6,0.65,0.7,0.75,0.8,0.85,0.9,0.95,1.0,1.05], "labels": false, "domain": false, "grid": false, "ticks": true, "tickSize": 4, "tickWidth": 1, "tickColor": "black", "title": null}},
                "detail": {"field": "c"}, "order": {"value": null}}},
  {"data": {"name": "labels"}, "transform": [{"filter": "datum.p=='C2'"}], "mark": {"type": "text", "align": "left", "baseline": "middle", "font": "Liberation Serif", "fontSize": 14, "fill": "white", "stroke": "white", "strokeWidth": 7, "strokeJoin": "round"},
   "encoding": {"x": {"field": "x", "type": "quantitative", "axis": {"orient": "top", "zindex": 1, "offset": -4, "values": [2.9,3.0,3.1,3.2,3.3,3.4,3.5,3.6,3.7,3.8,3.9,4.0,4.1], "labels": false, "domain": false, "grid": false, "ticks": true, "tickSize": 4, "tickWidth": 1, "tickColor": "black", "title": null}},
                "y": {"field": "y", "type": "quantitative", "axis": {"orient": "right", "zindex": 1, "offset": -4, "values": [0.15,0.2,0.25,0.3,0.35,0.4,0.45,0.5,0.55,0.6,0.65,0.7,0.75,0.8,0.85,0.9,0.95,1.0,1.05], "labels": false, "domain": false, "grid": false, "ticks": true, "tickSize": 4, "tickWidth": 1, "tickColor": "black", "title": null}},
                "text": {"field": "t"}}},
  {"data": {"name": "labels"}, "transform": [{"filter": "datum.p=='C2'"}], "mark": {"type": "text", "align": "left", "baseline": "middle", "font": "Liberation Serif", "fontSize": 10, "dx": 46, "dy": -5, "fill": "white", "stroke": "white", "strokeWidth": 6, "strokeJoin": "round"},
   "encoding": {"x": {"field": "x", "type": "quantitative", "axis": null}, "y": {"field": "y", "type": "quantitative", "axis": null}, "text": {"field": "e"}}},
  {"data": {"name": "labels"}, "transform": [{"filter": "datum.p=='C2'"}], "mark": {"type": "text", "align": "left", "baseline": "middle", "font": "Liberation Serif", "fontSize": 14, "fill": "black"},
   "encoding": {"x": {"field": "x", "type": "quantitative", "axis": null}, "y": {"field": "y", "type": "quantitative", "axis": null}, "text": {"field": "t"}}},
  {"data": {"name": "labels"}, "transform": [{"filter": "datum.p=='C2'"}], "mark": {"type": "text", "align": "left", "baseline": "middle", "font": "Liberation Serif", "fontSize": 10, "dx": 46, "dy": -5, "fill": "black"},
   "encoding": {"x": {"field": "x", "type": "quantitative", "axis": null}, "y": {"field": "y", "type": "quantitative", "axis": null}, "text": {"field": "e"}}}
 ]},
{"width": 411, "height": 221, "resolve": {"axis": {"x": "independent", "y": "independent"}},
 "layer": [
  {"data": {"name": "frames"}, "transform": [{"filter": "datum.p=='C3'"}], "mark": {"type": "rect", "fill": "#fffaec", "stroke": "black", "strokeWidth": 4, "clip": false},
   "encoding": {"x": {"field": "x0", "type": "quantitative", "scale": {"domain": [2.8, 4.2], "nice": false, "zero": false}, "axis": null}, "x2": {"field": "x1"},
                "y": {"field": "y0", "type": "quantitative", "scale": {"domain": [0.6, 2.6], "nice": false, "zero": false}, "axis": null}, "y2": {"field": "y1"}}},
  {"data": {"name": "frames"}, "transform": [{"filter": "datum.p=='C3'"}], "mark": {"type": "rect", "fill": "white", "stroke": "black", "strokeWidth": 1},
   "encoding": {"x": {"datum": 2.8, "type": "quantitative", "axis": {"orient": "bottom", "zindex": 1, "title": "pH", "values": [2.8,3.0,3.2,3.4,3.6,3.8,4.0,4.2], "format": ".1f", "ticks": false, "tickSize": 0, "domain": false, "grid": false, "labelFont": "Liberation Serif", "labelFontSize": 14, "labelPadding": 4, "labelFlush": false, "labelOverlap": false, "titleFont": "Liberation Serif", "titleFontSize": 16, "titleFontWeight": "bold", "titleX": 205.5, "titleY": 34, "titleBaseline": "middle"}},
                "x2": {"datum": 4.2},
                "y": {"datum": 0.6, "type": "quantitative", "axis": {"orient": "left", "zindex": 1, "title": "Potassium sorbate Conc mg/ml", "values": [0.6,1.0,1.4,1.8,2.2,2.6], "format": ".1f", "ticks": false, "tickSize": 0, "domain": false, "grid": false, "labelFont": "Liberation Serif", "labelFontSize": 14, "labelPadding": 6, "labelFlush": false, "labelOverlap": false, "titleFont": "Liberation Serif", "titleFontSize": 15, "titleFontWeight": "normal", "titleAngle": -90, "titleX": -49, "titleY": 115, "titleBaseline": "middle"}},
                "y2": {"datum": 2.6}}},
  {"data": {"name": "lines"}, "transform": [{"filter": "datum.p=='C3'"}], "mark": {"type": "line", "stroke": "black", "strokeWidth": 1, "clip": true},
   "encoding": {"x": {"field": "x", "type": "quantitative", "axis": {"orient": "bottom", "zindex": 1, "offset": -4, "values": [2.9,3.0,3.1,3.2,3.3,3.4,3.5,3.6,3.7,3.8,3.9,4.0,4.1], "labels": false, "domain": false, "grid": false, "ticks": true, "tickSize": 4, "tickWidth": 1, "tickColor": "black", "title": null}},
                "y": {"field": "y", "type": "quantitative", "axis": {"orient": "left", "zindex": 1, "offset": -4, "values": [0.7,0.8,0.9,1.0,1.1,1.2,1.3,1.4,1.5,1.6,1.7,1.8,1.9,2.0,2.1,2.2,2.3,2.4,2.5], "labels": false, "domain": false, "grid": false, "ticks": true, "tickSize": 4, "tickWidth": 1, "tickColor": "black", "title": null}},
                "detail": {"field": "c"}, "order": {"value": null}}},
  {"data": {"name": "labels"}, "transform": [{"filter": "datum.p=='C3'"}], "mark": {"type": "text", "align": "left", "baseline": "middle", "font": "Liberation Serif", "fontSize": 14, "fill": "white", "stroke": "white", "strokeWidth": 7, "strokeJoin": "round"},
   "encoding": {"x": {"field": "x", "type": "quantitative", "axis": {"orient": "top", "zindex": 1, "offset": -4, "values": [2.9,3.0,3.1,3.2,3.3,3.4,3.5,3.6,3.7,3.8,3.9,4.0,4.1], "labels": false, "domain": false, "grid": false, "ticks": true, "tickSize": 4, "tickWidth": 1, "tickColor": "black", "title": null}},
                "y": {"field": "y", "type": "quantitative", "axis": {"orient": "right", "zindex": 1, "offset": -4, "values": [0.7,0.8,0.9,1.0,1.1,1.2,1.3,1.4,1.5,1.6,1.7,1.8,1.9,2.0,2.1,2.2,2.3,2.4,2.5], "labels": false, "domain": false, "grid": false, "ticks": true, "tickSize": 4, "tickWidth": 1, "tickColor": "black", "title": null}},
                "text": {"field": "t"}}},
  {"data": {"name": "labels"}, "transform": [{"filter": "datum.p=='C3'"}], "mark": {"type": "text", "align": "left", "baseline": "middle", "font": "Liberation Serif", "fontSize": 10, "dx": 46, "dy": -5, "fill": "white", "stroke": "white", "strokeWidth": 6, "strokeJoin": "round"},
   "encoding": {"x": {"field": "x", "type": "quantitative", "axis": null}, "y": {"field": "y", "type": "quantitative", "axis": null}, "text": {"field": "e"}}},
  {"data": {"name": "labels"}, "transform": [{"filter": "datum.p=='C3'"}], "mark": {"type": "text", "align": "left", "baseline": "middle", "font": "Liberation Serif", "fontSize": 14, "fill": "black"},
   "encoding": {"x": {"field": "x", "type": "quantitative", "axis": null}, "y": {"field": "y", "type": "quantitative", "axis": null}, "text": {"field": "t"}}},
  {"data": {"name": "labels"}, "transform": [{"filter": "datum.p=='C3'"}], "mark": {"type": "text", "align": "left", "baseline": "middle", "font": "Liberation Serif", "fontSize": 10, "dx": 46, "dy": -5, "fill": "black"},
   "encoding": {"x": {"field": "x", "type": "quantitative", "axis": null}, "y": {"field": "y", "type": "quantitative", "axis": null}, "text": {"field": "e"}}}
 ]}
]
}
